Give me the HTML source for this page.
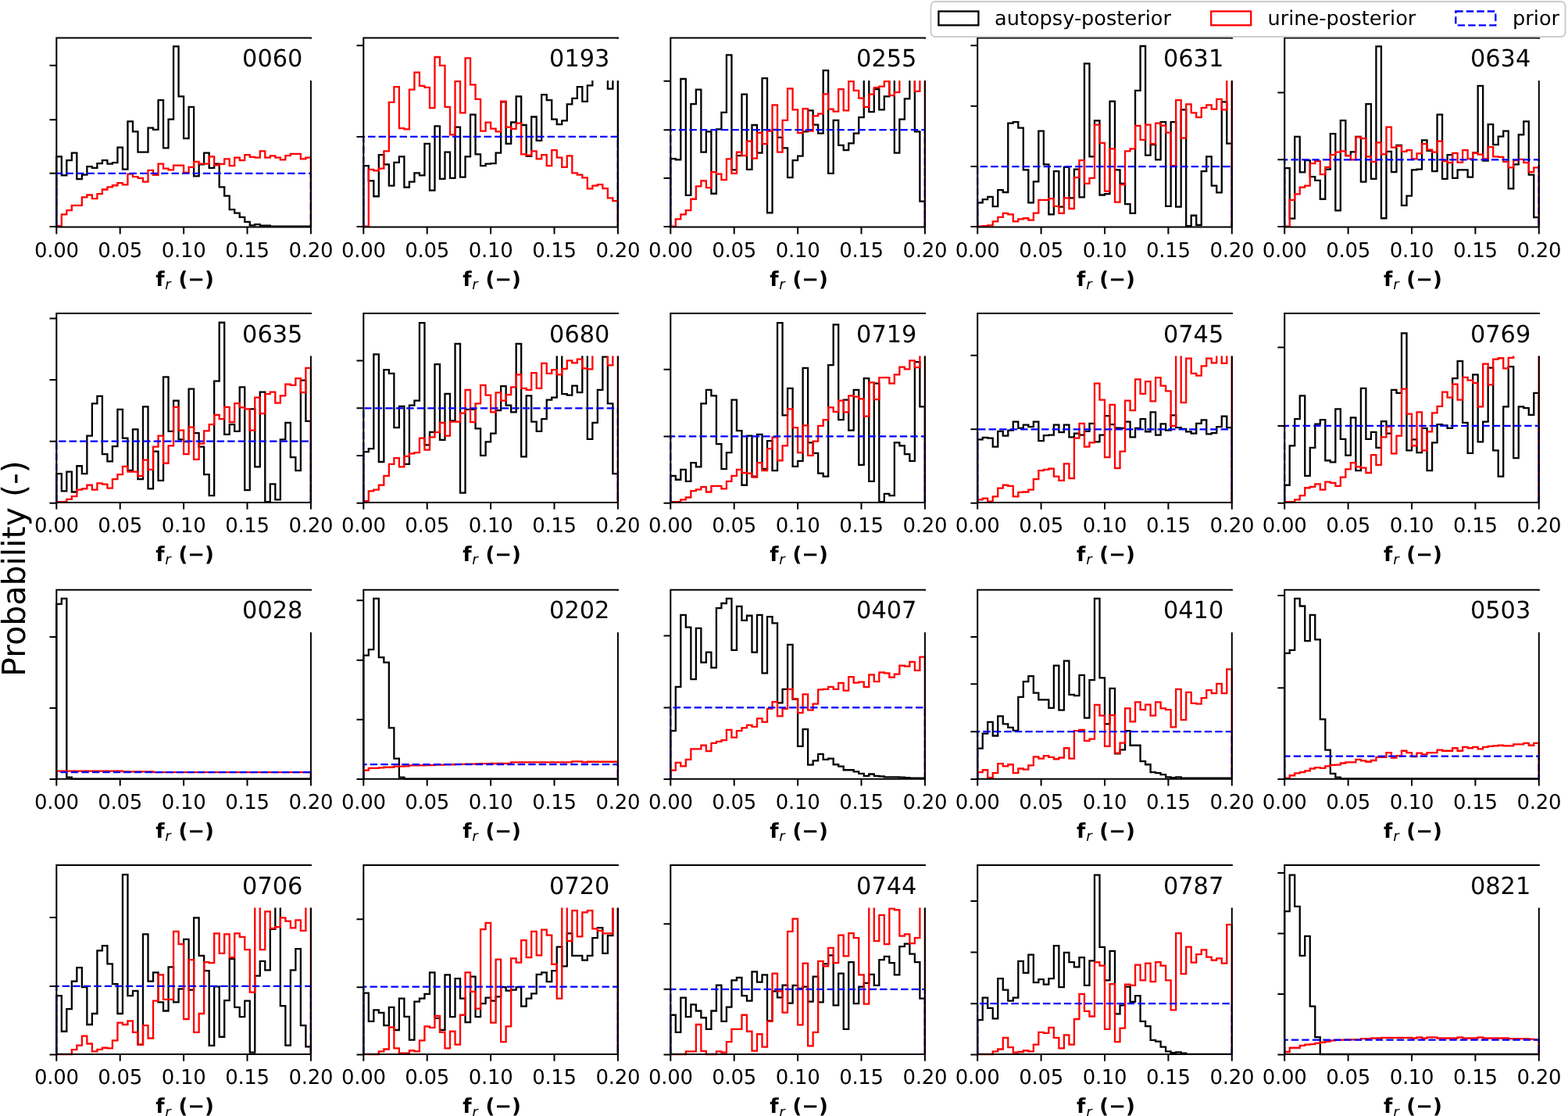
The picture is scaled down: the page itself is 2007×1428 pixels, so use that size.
<!DOCTYPE html>
<html><head><meta charset="utf-8"><title>Posterior histograms</title>
<style>
html,body{margin:0;padding:0;background:#fff;}
svg{display:block;}
text{font-family:"DejaVu Sans","Liberation Sans",sans-serif;fill:#000;text-rendering:geometricPrecision;}
.tl{font-size:26px;letter-spacing:-0.3px;text-anchor:middle;}
.tt{font-size:30.4px;text-anchor:end;}
.xl{font-size:26px;text-anchor:middle;}
.xl .sub{font-size:18.2px;}
.lg{font-size:25.6px;}
.yl{font-size:41px;text-anchor:middle;}
</style></head><body>
<svg width="2007" height="1428" viewBox="0 0 2007 1428">
<rect width="2007" height="1428" fill="#fff"/>
<path d="M72.3 290.6 L72.3 200.46 L78.81 200.46 L78.81 224.45 L85.32 224.45 L85.32 205.19 L91.84 205.19 L91.84 195.56 L98.35 195.56 L98.35 229.17 L104.86 229.17 L104.86 223.57 L111.37 223.57 L111.37 213.07 L117.88 213.07 L117.88 214.82 L124.4 214.82 L124.4 209.22 L130.91 209.22 L130.91 205.19 L137.42 205.19 L137.42 209.57 L143.93 209.57 L143.93 208.17 L150.44 208.17 L150.44 188.56 L156.96 188.56 L156.96 216.57 L163.47 216.57 L163.47 155.29 L169.98 155.29 L169.98 168.42 L176.49 168.42 L176.49 194.68 L183 194.68 L183 194.68 L189.52 194.68 L189.52 163.7 L196.03 163.7 L196.03 165.8 L202.54 165.8 L202.54 128.16 L209.05 128.16 L209.05 189.43 L215.56 189.43 L215.56 152.67 L222.08 152.67 L222.08 59.36 L228.59 59.36 L228.59 123.43 L235.1 123.43 L235.1 177.18 L241.61 177.18 L241.61 136.91 L248.12 136.91 L248.12 225.32 L254.64 225.32 L254.64 210.44 L261.15 210.44 L261.15 195.56 L267.66 195.56 L267.66 214.82 L274.17 214.82 L274.17 209.57 L280.68 209.57 L280.68 239.33 L287.2 239.33 L287.2 250.71 L293.71 250.71 L293.71 268.21 L300.22 268.21 L300.22 272.59 L306.73 272.59 L306.73 277.84 L313.24 277.84 L313.24 283.97 L319.76 283.97 L319.76 288.35 L326.27 288.35 L326.27 287.12 L332.78 287.12 L332.78 288.7 L339.29 288.7 L339.29 288.7 L345.8 288.7 L345.8 289.57 L352.32 289.57 L352.32 289.57 L358.83 289.57 L358.83 289.57 L365.34 289.57 L365.34 289.57 L371.85 289.57 L371.85 289.57 L378.36 289.57 L378.36 289.57 L384.88 289.57 L384.88 289.57 L391.39 289.57 L391.39 289.57 L397.9 289.57 L397.9 290.6" stroke="#000" stroke-width="2.3" fill="none"/>
<path d="M72.3 290.6 L72.3 289.22 L78.81 289.22 L78.81 274.34 L85.32 274.34 L85.32 269.09 L91.84 269.09 L91.84 262.96 L98.35 262.96 L98.35 262.96 L104.86 262.96 L104.86 252.46 L111.37 252.46 L111.37 249.48 L117.88 249.48 L117.88 254.21 L124.4 254.21 L124.4 248.08 L130.91 248.08 L130.91 242.48 L137.42 242.48 L137.42 239.33 L143.93 239.33 L143.93 237.23 L150.44 237.23 L150.44 234.08 L156.96 234.08 L156.96 236.35 L163.47 236.35 L163.47 222.7 L169.98 222.7 L169.98 226.2 L176.49 226.2 L176.49 227.95 L183 227.95 L183 232.68 L189.52 232.68 L189.52 217.97 L196.03 217.97 L196.03 223.92 L202.54 223.92 L202.54 209.57 L209.05 209.57 L209.05 215.69 L215.56 215.69 L215.56 217.44 L222.08 217.44 L222.08 211.67 L228.59 211.67 L228.59 211.67 L235.1 211.67 L235.1 220.95 L241.61 220.95 L241.61 213.94 L248.12 213.94 L248.12 206.94 L254.64 206.94 L254.64 209.57 L261.15 209.57 L261.15 209.57 L267.66 209.57 L267.66 200.46 L274.17 200.46 L274.17 211.32 L280.68 211.32 L280.68 209.92 L287.2 209.92 L287.2 203.44 L293.71 203.44 L293.71 212.19 L300.22 212.19 L300.22 201.69 L306.73 201.69 L306.73 205.19 L313.24 205.19 L313.24 198.19 L319.76 198.19 L319.76 200.81 L326.27 200.81 L326.27 201.69 L332.78 201.69 L332.78 193.46 L339.29 193.46 L339.29 201.69 L345.8 201.69 L345.8 199.41 L352.32 199.41 L352.32 201.69 L358.83 201.69 L358.83 204.31 L365.34 204.31 L365.34 199.06 L371.85 199.06 L371.85 196.96 L378.36 196.96 L378.36 196.96 L384.88 196.96 L384.88 203.44 L391.39 203.44 L391.39 201.69 L397.9 201.69 L397.9 290.6" stroke="#ff0000" stroke-width="2.3" fill="none"/>
<path d="M72.3 290.6V221.82H397.9V290.6" stroke="#0000ff" stroke-width="2.3" stroke-dasharray="9.4 4.1" fill="none"/>
<path d="M397.9 48.6V290.6" stroke="#000" stroke-width="2.0"/>
<rect x="294.3" y="49.6" width="106.6" height="53.5" fill="#fff"/>
<path d="M72.3 48.6V290.6 M72.3 48.6H397.9 M72.3 290.6H397.9" stroke="#000" stroke-width="2.0" stroke-linecap="square" fill="none"/>
<path d="M72.3 83.87H63.5M72.3 153.19H63.5M72.3 221.82H63.5M72.3 290.1H63.5M72.3 290.6V299.4M153.7 290.6V299.4M235.1 290.6V299.4M316.5 290.6V299.4M397.9 290.6V299.4" stroke="#000" stroke-width="2.0"/>
<text x="72.3" y="329" class="tl">0.00</text>
<text x="153.7" y="329" class="tl">0.05</text>
<text x="235.1" y="329" class="tl">0.10</text>
<text x="316.5" y="329" class="tl">0.15</text>
<text x="397.9" y="329" class="tl">0.20</text>
<text x="387.4" y="85.2" class="tt">0060</text>
<text x="235.1" y="365.9" class="xl"><tspan dx="1.5" font-weight="bold">f</tspan><tspan class="sub" dx="0.8" dy="4.2" font-style="italic" font-weight="normal">r</tspan><tspan dx="0.6" dy="-4.2" font-weight="bold"> (−)</tspan></text>
<path d="M465.3 290.6 L465.3 212.19 L471.81 212.19 L471.81 231.45 L478.32 231.45 L478.32 251.23 L484.84 251.23 L484.84 198.19 L491.35 198.19 L491.35 210.44 L497.86 210.44 L497.86 237.58 L504.37 237.58 L504.37 207.82 L510.88 207.82 L510.88 200.46 L517.4 200.46 L517.4 239.68 L523.91 239.68 L523.91 232.68 L530.42 232.68 L530.42 221.47 L536.93 221.47 L536.93 224.45 L543.44 224.45 L543.44 183.83 L549.96 183.83 L549.96 243.7 L556.47 243.7 L556.47 161.42 L562.98 161.42 L562.98 228.82 L569.49 228.82 L569.49 194.68 L576 194.68 L576 227.95 L582.52 227.95 L582.52 162.65 L589.03 162.65 L589.03 226.72 L595.54 226.72 L595.54 200.46 L602.05 200.46 L602.05 146.54 L608.56 146.54 L608.56 197.31 L615.08 197.31 L615.08 212.19 L621.59 212.19 L621.59 209.57 L628.1 209.57 L628.1 209.22 L634.61 209.22 L634.61 195.56 L641.12 195.56 L641.12 130.43 L647.64 130.43 L647.64 183.83 L654.15 183.83 L654.15 156.52 L660.66 156.52 L660.66 123.43 L667.17 123.43 L667.17 160.02 L673.68 160.02 L673.68 199.94 L680.2 199.94 L680.2 149.52 L686.71 149.52 L686.71 179.8 L693.22 179.8 L693.22 121.16 L699.73 121.16 L699.73 128.16 L706.24 128.16 L706.24 152.67 L712.76 152.67 L712.76 159.15 L719.27 159.15 L719.27 154.42 L725.78 154.42 L725.78 133.41 L732.29 133.41 L732.29 125.88 L738.8 125.88 L738.8 111.18 L745.32 111.18 L745.32 129.91 L751.83 129.91 L751.83 109.43 L758.34 109.43 L758.34 88.77 L764.85 88.77 L764.85 88.77 L771.36 88.77 L771.36 88.77 L777.88 88.77 L777.88 113.63 L784.39 113.63 L784.39 88.77 L790.9 88.77 L790.9 290.6" stroke="#000" stroke-width="2.3" fill="none"/>
<path d="M465.3 290.6 L465.3 289.57 L471.81 289.57 L471.81 216.92 L478.32 216.92 L478.32 218.32 L484.84 218.32 L484.84 215.69 L491.35 215.69 L491.35 193.46 L497.86 193.46 L497.86 130.78 L504.37 130.78 L504.37 111.18 L510.88 111.18 L510.88 164.05 L517.4 164.05 L517.4 165.45 L523.91 165.45 L523.91 114.68 L530.42 114.68 L530.42 92.62 L536.93 92.62 L536.93 109.78 L543.44 109.78 L543.44 111.88 L549.96 111.88 L549.96 138.14 L556.47 138.14 L556.47 73.01 L562.98 73.01 L562.98 83.87 L569.49 83.87 L569.49 136.91 L576 136.91 L576 172.45 L582.52 172.45 L582.52 104.17 L589.03 104.17 L589.03 144.44 L595.54 144.44 L595.54 74.41 L602.05 74.41 L602.05 108.38 L608.56 108.38 L608.56 126.93 L615.08 126.93 L615.08 167.55 L621.59 167.55 L621.59 156.69 L628.1 156.69 L628.1 164.57 L634.61 164.57 L634.61 168.42 L641.12 168.42 L641.12 129.56 L647.64 129.56 L647.64 162.65 L654.15 162.65 L654.15 164.92 L660.66 164.92 L660.66 157.57 L667.17 157.57 L667.17 197.31 L673.68 197.31 L673.68 198.71 L680.2 198.71 L680.2 193.46 L686.71 193.46 L686.71 203.44 L693.22 203.44 L693.22 198.19 L699.73 198.19 L699.73 212.19 L706.24 212.19 L706.24 192.06 L712.76 192.06 L712.76 201.69 L719.27 201.69 L719.27 213.94 L725.78 213.94 L725.78 199.41 L732.29 199.41 L732.29 221.47 L738.8 221.47 L738.8 223.57 L745.32 223.57 L745.32 227.42 L751.83 227.42 L751.83 241.43 L758.34 241.43 L758.34 237.58 L764.85 237.58 L764.85 236.18 L771.36 236.18 L771.36 241.08 L777.88 241.08 L777.88 253.33 L784.39 253.33 L784.39 257.18 L790.9 257.18 L790.9 290.6" stroke="#ff0000" stroke-width="2.3" fill="none"/>
<path d="M465.3 290.6V174.9H790.9V290.6" stroke="#0000ff" stroke-width="2.3" stroke-dasharray="9.4 4.1" fill="none"/>
<path d="M790.9 48.6V290.6" stroke="#000" stroke-width="2.0"/>
<rect x="687.3" y="49.6" width="106.6" height="53.5" fill="#fff"/>
<path d="M465.3 48.6V290.6 M465.3 48.6H790.9 M465.3 290.6H790.9" stroke="#000" stroke-width="2.0" stroke-linecap="square" fill="none"/>
<path d="M465.3 58.13H456.5M465.3 174.9H456.5M465.3 290.1H456.5M465.3 290.6V299.4M546.7 290.6V299.4M628.1 290.6V299.4M709.5 290.6V299.4M790.9 290.6V299.4" stroke="#000" stroke-width="2.0"/>
<text x="465.3" y="329" class="tl">0.00</text>
<text x="546.7" y="329" class="tl">0.05</text>
<text x="628.1" y="329" class="tl">0.10</text>
<text x="709.5" y="329" class="tl">0.15</text>
<text x="790.9" y="329" class="tl">0.20</text>
<text x="780.4" y="85.2" class="tt">0193</text>
<text x="628.1" y="365.9" class="xl"><tspan dx="1.5" font-weight="bold">f</tspan><tspan class="sub" dx="0.8" dy="4.2" font-style="italic" font-weight="normal">r</tspan><tspan dx="0.6" dy="-4.2" font-weight="bold"> (−)</tspan></text>
<path d="M858.3 290.6 L858.3 203.09 L864.81 203.09 L864.81 204.31 L871.32 204.31 L871.32 101.02 L877.84 101.02 L877.84 249.83 L884.35 249.83 L884.35 133.06 L890.86 133.06 L890.86 114.68 L897.37 114.68 L897.37 194.68 L903.88 194.68 L903.88 168.42 L910.4 168.42 L910.4 247.73 L916.91 247.73 L916.91 165.45 L923.42 165.45 L923.42 143.91 L929.93 143.91 L929.93 70.39 L936.44 70.39 L936.44 217.44 L942.96 217.44 L942.96 199.06 L949.47 199.06 L949.47 120.63 L955.98 120.63 L955.98 216.92 L962.49 216.92 L962.49 160.02 L969 160.02 L969 195.56 L975.52 195.56 L975.52 100.15 L982.03 100.15 L982.03 272.24 L988.54 272.24 L988.54 165.8 L995.05 165.8 L995.05 175.95 L1001.56 175.95 L1001.56 189.43 L1008.08 189.43 L1008.08 227.07 L1014.59 227.07 L1014.59 205.19 L1021.1 205.19 L1021.1 199.59 L1027.61 199.59 L1027.61 168.42 L1034.12 168.42 L1034.12 141.29 L1040.64 141.29 L1040.64 159.67 L1047.15 159.67 L1047.15 170.7 L1053.66 170.7 L1053.66 90.17 L1060.17 90.17 L1060.17 221.82 L1066.68 221.82 L1066.68 153.89 L1073.2 153.89 L1073.2 185.93 L1079.71 185.93 L1079.71 192.06 L1086.22 192.06 L1086.22 183.31 L1092.73 183.31 L1092.73 170.7 L1099.24 170.7 L1099.24 150.04 L1105.76 150.04 L1105.76 88.77 L1112.27 88.77 L1112.27 143.04 L1118.78 143.04 L1118.78 114.15 L1125.29 114.15 L1125.29 140.41 L1131.8 140.41 L1131.8 123.43 L1138.32 123.43 L1138.32 88.77 L1144.83 88.77 L1144.83 195.56 L1151.34 195.56 L1151.34 152.67 L1157.85 152.67 L1157.85 126.41 L1164.36 126.41 L1164.36 88.77 L1170.88 88.77 L1170.88 168.42 L1177.39 168.42 L1177.39 257.71 L1183.9 257.71 L1183.9 290.6" stroke="#000" stroke-width="2.3" fill="none"/>
<path d="M858.3 290.6 L858.3 289.57 L864.81 289.57 L864.81 280.47 L871.32 280.47 L871.32 274.34 L877.84 274.34 L877.84 269.09 L884.35 269.09 L884.35 254.73 L890.86 254.73 L890.86 238.45 L897.37 238.45 L897.37 231.45 L903.88 231.45 L903.88 240.2 L910.4 240.2 L910.4 220.07 L916.91 220.07 L916.91 222.7 L923.42 222.7 L923.42 230.05 L929.93 230.05 L929.93 203.44 L936.44 203.44 L936.44 221.82 L942.96 221.82 L942.96 194.68 L949.47 194.68 L949.47 199.06 L955.98 199.06 L955.98 180.68 L962.49 180.68 L962.49 202.56 L969 202.56 L969 169.82 L975.52 169.82 L975.52 184.18 L982.03 184.18 L982.03 167.55 L988.54 167.55 L988.54 134.29 L995.05 134.29 L995.05 194.68 L1001.56 194.68 L1001.56 153.89 L1008.08 153.89 L1008.08 113.28 L1014.59 113.28 L1014.59 140.41 L1021.1 140.41 L1021.1 170.18 L1027.61 170.18 L1027.61 139.19 L1034.12 139.19 L1034.12 167.55 L1040.64 167.55 L1040.64 148.29 L1047.15 148.29 L1047.15 145.67 L1053.66 145.67 L1053.66 120.28 L1060.17 120.28 L1060.17 139.54 L1066.68 139.54 L1066.68 142.69 L1073.2 142.69 L1073.2 114.15 L1079.71 114.15 L1079.71 141.29 L1086.22 141.29 L1086.22 104.17 L1092.73 104.17 L1092.73 115.9 L1099.24 115.9 L1099.24 125.53 L1105.76 125.53 L1105.76 136.91 L1112.27 136.91 L1112.27 120.63 L1118.78 120.63 L1118.78 112.05 L1125.29 112.05 L1125.29 110.65 L1131.8 110.65 L1131.8 104.17 L1138.32 104.17 L1138.32 122.03 L1144.83 122.03 L1144.83 118.18 L1151.34 118.18 L1151.34 88.77 L1157.85 88.77 L1157.85 88.77 L1164.36 88.77 L1164.36 88.77 L1170.88 88.77 L1170.88 116.78 L1177.39 116.78 L1177.39 88.77 L1183.9 88.77 L1183.9 290.6" stroke="#ff0000" stroke-width="2.3" fill="none"/>
<path d="M858.3 290.6V166.15H1183.9V290.6" stroke="#0000ff" stroke-width="2.3" stroke-dasharray="9.4 4.1" fill="none"/>
<path d="M1183.9 48.6V290.6" stroke="#000" stroke-width="2.0"/>
<rect x="1080.3" y="49.6" width="106.6" height="53.5" fill="#fff"/>
<path d="M858.3 48.6V290.6 M858.3 48.6H1183.9 M858.3 290.6H1183.9" stroke="#000" stroke-width="2.0" stroke-linecap="square" fill="none"/>
<path d="M858.3 103.65H849.5M858.3 166.15H849.5M858.3 227.95H849.5M858.3 290.1H849.5M858.3 290.6V299.4M939.7 290.6V299.4M1021.1 290.6V299.4M1102.5 290.6V299.4M1183.9 290.6V299.4" stroke="#000" stroke-width="2.0"/>
<text x="858.3" y="329" class="tl">0.00</text>
<text x="939.7" y="329" class="tl">0.05</text>
<text x="1021.1" y="329" class="tl">0.10</text>
<text x="1102.5" y="329" class="tl">0.15</text>
<text x="1183.9" y="329" class="tl">0.20</text>
<text x="1173.4" y="85.2" class="tt">0255</text>
<text x="1021.1" y="365.9" class="xl"><tspan dx="1.5" font-weight="bold">f</tspan><tspan class="sub" dx="0.8" dy="4.2" font-style="italic" font-weight="normal">r</tspan><tspan dx="0.6" dy="-4.2" font-weight="bold"> (−)</tspan></text>
<path d="M1251.2 290.6 L1251.2 259.46 L1257.71 259.46 L1257.71 255.08 L1264.22 255.08 L1264.22 251.93 L1270.74 251.93 L1270.74 264.19 L1277.25 264.19 L1277.25 243.18 L1283.76 243.18 L1283.76 245.98 L1290.27 245.98 L1290.27 157.57 L1296.78 157.57 L1296.78 156.17 L1303.3 156.17 L1303.3 163.7 L1309.81 163.7 L1309.81 217.44 L1316.32 217.44 L1316.32 259.46 L1322.83 259.46 L1322.83 232.32 L1329.34 232.32 L1329.34 167.55 L1335.86 167.55 L1335.86 210.44 L1342.37 210.44 L1342.37 274.34 L1348.88 274.34 L1348.88 219.19 L1355.39 219.19 L1355.39 264.71 L1361.9 264.71 L1361.9 213.94 L1368.42 213.94 L1368.42 253.33 L1374.93 253.33 L1374.93 216.57 L1381.44 216.57 L1381.44 252.46 L1387.95 252.46 L1387.95 81.41 L1394.46 81.41 L1394.46 200.46 L1400.98 200.46 L1400.98 154.42 L1407.49 154.42 L1407.49 249.48 L1414 249.48 L1414 248.08 L1420.51 248.08 L1420.51 129.56 L1427.02 129.56 L1427.02 217.44 L1433.54 217.44 L1433.54 234.95 L1440.05 234.95 L1440.05 261.21 L1446.56 261.21 L1446.56 272.94 L1453.07 272.94 L1453.07 115.9 L1459.58 115.9 L1459.58 59.01 L1466.1 59.01 L1466.1 198.71 L1472.61 198.71 L1472.61 185.06 L1479.12 185.06 L1479.12 204.31 L1485.63 204.31 L1485.63 156.17 L1492.14 156.17 L1492.14 263.84 L1498.66 263.84 L1498.66 156.17 L1505.17 156.17 L1505.17 264.71 L1511.68 264.71 L1511.68 140.41 L1518.19 140.41 L1518.19 289.22 L1524.7 289.22 L1524.7 275.74 L1531.22 275.74 L1531.22 288 L1537.73 288 L1537.73 219.19 L1544.24 219.19 L1544.24 200.46 L1550.75 200.46 L1550.75 237.58 L1557.26 237.58 L1557.26 246.33 L1563.78 246.33 L1563.78 130.43 L1570.29 130.43 L1570.29 183.66 L1576.8 183.66 L1576.8 290.6" stroke="#000" stroke-width="2.3" fill="none"/>
<path d="M1251.2 290.6 L1251.2 289.57 L1257.71 289.57 L1257.71 289.22 L1264.22 289.22 L1264.22 288.35 L1270.74 288.35 L1270.74 283.45 L1277.25 283.45 L1277.25 277.84 L1283.76 277.84 L1283.76 272.94 L1290.27 272.94 L1290.27 274.34 L1296.78 274.34 L1296.78 283.45 L1303.3 283.45 L1303.3 280.47 L1309.81 280.47 L1309.81 279.24 L1316.32 279.24 L1316.32 281.69 L1322.83 281.69 L1322.83 272.59 L1329.34 272.59 L1329.34 255.96 L1335.86 255.96 L1335.86 255.96 L1342.37 255.96 L1342.37 254.21 L1348.88 254.21 L1348.88 263.84 L1355.39 263.84 L1355.39 272.94 L1361.9 272.94 L1361.9 253.33 L1368.42 253.33 L1368.42 266.99 L1374.93 266.99 L1374.93 227.07 L1381.44 227.07 L1381.44 205.19 L1387.95 205.19 L1387.95 234.95 L1394.46 234.95 L1394.46 227.95 L1400.98 227.95 L1400.98 159.67 L1407.49 159.67 L1407.49 182.96 L1414 182.96 L1414 244.58 L1420.51 244.58 L1420.51 190.31 L1427.02 190.31 L1427.02 258.59 L1433.54 258.59 L1433.54 236.18 L1440.05 236.18 L1440.05 193.46 L1446.56 193.46 L1446.56 190.31 L1453.07 190.31 L1453.07 160.9 L1459.58 160.9 L1459.58 178.93 L1466.1 178.93 L1466.1 159.67 L1472.61 159.67 L1472.61 184.18 L1479.12 184.18 L1479.12 157.57 L1485.63 157.57 L1485.63 160.55 L1492.14 160.55 L1492.14 169.65 L1498.66 169.65 L1498.66 212.19 L1505.17 212.19 L1505.17 128.16 L1511.68 128.16 L1511.68 176.65 L1518.19 176.65 L1518.19 133.41 L1524.7 133.41 L1524.7 144.44 L1531.22 144.44 L1531.22 150.04 L1537.73 150.04 L1537.73 137.79 L1544.24 137.79 L1544.24 134.29 L1550.75 134.29 L1550.75 139.54 L1557.26 139.54 L1557.26 126.93 L1563.78 126.93 L1563.78 140.41 L1570.29 140.41 L1570.29 88.77 L1576.8 88.77 L1576.8 290.6" stroke="#ff0000" stroke-width="2.3" fill="none"/>
<path d="M1251.2 290.6V213.07H1576.8V290.6" stroke="#0000ff" stroke-width="2.3" stroke-dasharray="9.4 4.1" fill="none"/>
<path d="M1576.8 48.6V290.6" stroke="#000" stroke-width="2.0"/>
<rect x="1473.2" y="49.6" width="106.6" height="53.5" fill="#fff"/>
<path d="M1251.2 48.6V290.6 M1251.2 48.6H1576.8 M1251.2 290.6H1576.8" stroke="#000" stroke-width="2.0" stroke-linecap="square" fill="none"/>
<path d="M1251.2 58.13H1242.4M1251.2 135.69H1242.4M1251.2 213.07H1242.4M1251.2 290.1H1242.4M1251.2 290.6V299.4M1332.6 290.6V299.4M1414 290.6V299.4M1495.4 290.6V299.4M1576.8 290.6V299.4" stroke="#000" stroke-width="2.0"/>
<text x="1251.2" y="329" class="tl">0.00</text>
<text x="1332.6" y="329" class="tl">0.05</text>
<text x="1414" y="329" class="tl">0.10</text>
<text x="1495.4" y="329" class="tl">0.15</text>
<text x="1576.8" y="329" class="tl">0.20</text>
<text x="1566.3" y="85.2" class="tt">0631</text>
<text x="1414" y="365.9" class="xl"><tspan dx="1.5" font-weight="bold">f</tspan><tspan class="sub" dx="0.8" dy="4.2" font-style="italic" font-weight="normal">r</tspan><tspan dx="0.6" dy="-4.2" font-weight="bold"> (−)</tspan></text>
<path d="M1644.2 290.6 L1644.2 215.17 L1650.71 215.17 L1650.71 279.59 L1657.22 279.59 L1657.22 174.9 L1663.74 174.9 L1663.74 220.42 L1670.25 220.42 L1670.25 205.19 L1676.76 205.19 L1676.76 226.2 L1683.27 226.2 L1683.27 230.92 L1689.78 230.92 L1689.78 254.73 L1696.3 254.73 L1696.3 216.57 L1702.81 216.57 L1702.81 171.05 L1709.32 171.05 L1709.32 269.44 L1715.83 269.44 L1715.83 154.07 L1722.34 154.07 L1722.34 199.06 L1728.86 199.06 L1728.86 194.33 L1735.37 194.33 L1735.37 174.9 L1741.88 174.9 L1741.88 232.68 L1748.39 232.68 L1748.39 133.06 L1754.9 133.06 L1754.9 228.82 L1761.42 228.82 L1761.42 59.36 L1767.93 59.36 L1767.93 279.24 L1774.44 279.24 L1774.44 193.81 L1780.95 193.81 L1780.95 220.07 L1787.46 220.07 L1787.46 185.93 L1793.98 185.93 L1793.98 262.96 L1800.49 262.96 L1800.49 250.71 L1807 250.71 L1807 217.44 L1813.51 217.44 L1813.51 216.57 L1820.02 216.57 L1820.02 179.45 L1826.54 179.45 L1826.54 192.93 L1833.05 192.93 L1833.05 219.19 L1839.56 219.19 L1839.56 146.54 L1846.07 146.54 L1846.07 228.82 L1852.58 228.82 L1852.58 198.19 L1859.1 198.19 L1859.1 227.95 L1865.61 227.95 L1865.61 217.44 L1872.12 217.44 L1872.12 217.44 L1878.63 217.44 L1878.63 226.72 L1885.14 226.72 L1885.14 195.56 L1891.66 195.56 L1891.66 109.78 L1898.17 109.78 L1898.17 205.71 L1904.68 205.71 L1904.68 159.15 L1911.19 159.15 L1911.19 185.06 L1917.7 185.06 L1917.7 174.55 L1924.22 174.55 L1924.22 167.55 L1930.73 167.55 L1930.73 241.43 L1937.24 241.43 L1937.24 210.44 L1943.75 210.44 L1943.75 172.45 L1950.26 172.45 L1950.26 155.29 L1956.78 155.29 L1956.78 223.57 L1963.29 223.57 L1963.29 278.19 L1969.8 278.19 L1969.8 290.6" stroke="#000" stroke-width="2.3" fill="none"/>
<path d="M1644.2 290.6 L1644.2 289.57 L1650.71 289.57 L1650.71 255.96 L1657.22 255.96 L1657.22 248.43 L1663.74 248.43 L1663.74 239.68 L1670.25 239.68 L1670.25 237.58 L1676.76 237.58 L1676.76 209.22 L1683.27 209.22 L1683.27 206.06 L1689.78 206.06 L1689.78 223.22 L1696.3 223.22 L1696.3 213.94 L1702.81 213.94 L1702.81 198.19 L1709.32 198.19 L1709.32 194.68 L1715.83 194.68 L1715.83 193.46 L1722.34 193.46 L1722.34 199.06 L1728.86 199.06 L1728.86 204.31 L1735.37 204.31 L1735.37 175.43 L1741.88 175.43 L1741.88 177.18 L1748.39 177.18 L1748.39 200.46 L1754.9 200.46 L1754.9 206.94 L1761.42 206.94 L1761.42 182.43 L1767.93 182.43 L1767.93 197.31 L1774.44 197.31 L1774.44 162.65 L1780.95 162.65 L1780.95 188.56 L1787.46 188.56 L1787.46 186.81 L1793.98 186.81 L1793.98 193.81 L1800.49 193.81 L1800.49 192.06 L1807 192.06 L1807 203.44 L1813.51 203.44 L1813.51 196.44 L1820.02 196.44 L1820.02 184.18 L1826.54 184.18 L1826.54 191.71 L1833.05 191.71 L1833.05 194.68 L1839.56 194.68 L1839.56 180.68 L1846.07 180.68 L1846.07 206.06 L1852.58 206.06 L1852.58 208.17 L1859.1 208.17 L1859.1 195.91 L1865.61 195.91 L1865.61 207.82 L1872.12 207.82 L1872.12 192.06 L1878.63 192.06 L1878.63 203.44 L1885.14 203.44 L1885.14 195.56 L1891.66 195.56 L1891.66 197.66 L1898.17 197.66 L1898.17 203.44 L1904.68 203.44 L1904.68 188.21 L1911.19 188.21 L1911.19 200.46 L1917.7 200.46 L1917.7 200.81 L1924.22 200.81 L1924.22 206.94 L1930.73 206.94 L1930.73 214.47 L1937.24 214.47 L1937.24 205.19 L1943.75 205.19 L1943.75 203.96 L1950.26 203.96 L1950.26 208.17 L1956.78 208.17 L1956.78 220.07 L1963.29 220.07 L1963.29 214.47 L1969.8 214.47 L1969.8 290.6" stroke="#ff0000" stroke-width="2.3" fill="none"/>
<path d="M1644.2 290.6V204.31H1969.8V290.6" stroke="#0000ff" stroke-width="2.3" stroke-dasharray="9.4 4.1" fill="none"/>
<path d="M1969.8 48.6V290.6" stroke="#000" stroke-width="2.0"/>
<rect x="1866.2" y="49.6" width="106.6" height="53.5" fill="#fff"/>
<path d="M1644.2 48.6V290.6 M1644.2 48.6H1969.8 M1644.2 290.6H1969.8" stroke="#000" stroke-width="2.0" stroke-linecap="square" fill="none"/>
<path d="M1644.2 118.53H1635.4M1644.2 204.31H1635.4M1644.2 290.1H1635.4M1644.2 290.6V299.4M1725.6 290.6V299.4M1807 290.6V299.4M1888.4 290.6V299.4M1969.8 290.6V299.4" stroke="#000" stroke-width="2.0"/>
<text x="1644.2" y="329" class="tl">0.00</text>
<text x="1725.6" y="329" class="tl">0.05</text>
<text x="1807" y="329" class="tl">0.10</text>
<text x="1888.4" y="329" class="tl">0.15</text>
<text x="1969.8" y="329" class="tl">0.20</text>
<text x="1959.3" y="85.2" class="tt">0634</text>
<text x="1807" y="365.9" class="xl"><tspan dx="1.5" font-weight="bold">f</tspan><tspan class="sub" dx="0.8" dy="4.2" font-style="italic" font-weight="normal">r</tspan><tspan dx="0.6" dy="-4.2" font-weight="bold"> (−)</tspan></text>
<path d="M72.3 642.9 L72.3 606.21 L78.81 606.21 L78.81 628.44 L85.32 628.44 L85.32 603.58 L91.84 603.58 L91.84 629.49 L98.35 629.49 L98.35 596.23 L104.86 596.23 L104.86 606.21 L111.37 606.21 L111.37 557.71 L117.88 557.71 L117.88 516.4 L124.4 516.4 L124.4 506.94 L130.91 506.94 L130.91 581.17 L137.42 581.17 L137.42 590.45 L143.93 590.45 L143.93 571.19 L150.44 571.19 L150.44 523.93 L156.96 523.93 L156.96 560.69 L163.47 560.69 L163.47 601.83 L169.98 601.83 L169.98 549.31 L176.49 549.31 L176.49 613.21 L183 613.21 L183 520.42 L189.52 520.42 L189.52 625.47 L196.03 625.47 L196.03 577.67 L202.54 577.67 L202.54 614.96 L209.05 614.96 L209.05 482.43 L215.56 482.43 L215.56 551.94 L222.08 551.94 L222.08 512.55 L228.59 512.55 L228.59 562.44 L235.1 562.44 L235.1 565.07 L241.61 565.07 L241.61 497.67 L248.12 497.67 L248.12 554.21 L254.64 554.21 L254.64 571.72 L261.15 571.72 L261.15 607.08 L267.66 607.08 L267.66 634.22 L274.17 634.22 L274.17 487.69 L280.68 487.69 L280.68 412.76 L287.2 412.76 L287.2 555.96 L293.71 555.96 L293.71 543.18 L300.22 543.18 L300.22 551.94 L306.73 551.94 L306.73 495.39 L313.24 495.39 L313.24 627.22 L319.76 627.22 L319.76 523.4 L326.27 523.4 L326.27 597.46 L332.78 597.46 L332.78 501.69 L339.29 501.69 L339.29 642.1 L345.8 642.1 L345.8 619.34 L352.32 619.34 L352.32 639.47 L358.83 639.47 L358.83 562.44 L365.34 562.44 L365.34 540.91 L371.85 540.91 L371.85 585.2 L378.36 585.2 L378.36 602.18 L384.88 602.18 L384.88 486.64 L391.39 486.64 L391.39 538.81 L397.9 538.81 L397.9 642.9" stroke="#000" stroke-width="2.3" fill="none"/>
<path d="M72.3 642.9 L72.3 642.1 L78.81 642.1 L78.81 642.1 L85.32 642.1 L85.32 638.95 L91.84 638.95 L91.84 635.1 L98.35 635.1 L98.35 626.69 L104.86 626.69 L104.86 625.47 L111.37 625.47 L111.37 620.74 L117.88 620.74 L117.88 626.69 L124.4 626.69 L124.4 618.46 L130.91 618.46 L130.91 619.69 L137.42 619.69 L137.42 624.59 L143.93 624.59 L143.93 613.21 L150.44 613.21 L150.44 607.08 L156.96 607.08 L156.96 596.93 L163.47 596.93 L163.47 603.58 L169.98 603.58 L169.98 603.58 L176.49 603.58 L176.49 609.18 L183 609.18 L183 588.7 L189.52 588.7 L189.52 600.96 L196.03 600.96 L196.03 571.72 L202.54 571.72 L202.54 557.71 L209.05 557.71 L209.05 592.73 L215.56 592.73 L215.56 570.32 L222.08 570.32 L222.08 520.95 L228.59 520.95 L228.59 550.71 L235.1 550.71 L235.1 581.17 L241.61 581.17 L241.61 546.68 L248.12 546.68 L248.12 587.83 L254.64 587.83 L254.64 567.69 L261.15 567.69 L261.15 551.41 L267.66 551.41 L267.66 543.18 L274.17 543.18 L274.17 530.93 L280.68 530.93 L280.68 536.18 L287.2 536.18 L287.2 520.95 L293.71 520.95 L293.71 540.21 L300.22 540.21 L300.22 516.05 L306.73 516.05 L306.73 521.3 L313.24 521.3 L313.24 523.4 L319.76 523.4 L319.76 550.71 L326.27 550.71 L326.27 508.69 L332.78 508.69 L332.78 529.18 L339.29 529.18 L339.29 504.14 L345.8 504.14 L345.8 501.69 L352.32 501.69 L352.32 515.7 L358.83 515.7 L358.83 506.42 L365.34 506.42 L365.34 491.54 L371.85 491.54 L371.85 492.94 L378.36 492.94 L378.36 484.18 L384.88 484.18 L384.88 502.04 L391.39 502.04 L391.39 470.88 L397.9 470.88 L397.9 642.9" stroke="#ff0000" stroke-width="2.3" fill="none"/>
<path d="M72.3 642.9V564.72H397.9V642.9" stroke="#0000ff" stroke-width="2.3" stroke-dasharray="9.4 4.1" fill="none"/>
<path d="M397.9 400.9V642.9" stroke="#000" stroke-width="2.0"/>
<rect x="294.3" y="401.9" width="106.6" height="53.5" fill="#fff"/>
<path d="M72.3 400.9V642.9 M72.3 400.9H397.9 M72.3 642.9H397.9" stroke="#000" stroke-width="2.0" stroke-linecap="square" fill="none"/>
<path d="M72.3 407.5H63.5M72.3 485.94H63.5M72.3 564.72H63.5M72.3 643.85H63.5M72.3 642.9V651.7M153.7 642.9V651.7M235.1 642.9V651.7M316.5 642.9V651.7M397.9 642.9V651.7" stroke="#000" stroke-width="2.0"/>
<text x="72.3" y="681.3" class="tl">0.00</text>
<text x="153.7" y="681.3" class="tl">0.05</text>
<text x="235.1" y="681.3" class="tl">0.10</text>
<text x="316.5" y="681.3" class="tl">0.15</text>
<text x="397.9" y="681.3" class="tl">0.20</text>
<text x="387.4" y="437.5" class="tt">0635</text>
<text x="235.1" y="718.2" class="xl"><tspan dx="1.5" font-weight="bold">f</tspan><tspan class="sub" dx="0.8" dy="4.2" font-style="italic" font-weight="normal">r</tspan><tspan dx="0.6" dy="-4.2" font-weight="bold"> (−)</tspan></text>
<path d="M465.3 642.9 L465.3 578.2 L471.81 578.2 L471.81 574.17 L478.32 574.17 L478.32 453.37 L484.84 453.37 L484.84 590.98 L491.35 590.98 L491.35 473.16 L497.86 473.16 L497.86 477.88 L504.37 477.88 L504.37 547.21 L510.88 547.21 L510.88 519.9 L517.4 519.9 L517.4 593.95 L523.91 593.95 L523.91 518.67 L530.42 518.67 L530.42 512.55 L536.93 512.55 L536.93 413.11 L543.44 413.11 L543.44 569.44 L549.96 569.44 L549.96 552.81 L556.47 552.81 L556.47 466.15 L562.98 466.15 L562.98 562.97 L569.49 562.97 L569.49 503.79 L576 503.79 L576 538.46 L582.52 538.46 L582.52 439.89 L589.03 439.89 L589.03 630.72 L595.54 630.72 L595.54 523.93 L602.05 523.93 L602.05 523.93 L608.56 523.93 L608.56 548.44 L615.08 548.44 L615.08 582.92 L621.59 582.92 L621.59 565.42 L628.1 565.42 L628.1 554.56 L634.61 554.56 L634.61 525.15 L641.12 525.15 L641.12 494.16 L647.64 494.16 L647.64 518.67 L654.15 518.67 L654.15 527.43 L660.66 527.43 L660.66 439.89 L667.17 439.89 L667.17 584.32 L673.68 584.32 L673.68 506.42 L680.2 506.42 L680.2 539.68 L686.71 539.68 L686.71 551.94 L693.22 551.94 L693.22 536.18 L699.73 536.18 L699.73 511.67 L706.24 511.67 L706.24 508.69 L712.76 508.69 L712.76 440.77 L719.27 440.77 L719.27 504.14 L725.78 504.14 L725.78 505.54 L732.29 505.54 L732.29 493.64 L738.8 493.64 L738.8 502.04 L745.32 502.04 L745.32 440.77 L751.83 440.77 L751.83 561.92 L758.34 561.92 L758.34 540.91 L764.85 540.91 L764.85 498.89 L771.36 498.89 L771.36 456.52 L777.88 456.52 L777.88 516.4 L784.39 516.4 L784.39 606.21 L790.9 606.21 L790.9 642.9" stroke="#000" stroke-width="2.3" fill="none"/>
<path d="M465.3 642.9 L465.3 641.22 L471.81 641.22 L471.81 628.44 L478.32 628.44 L478.32 626.69 L484.84 626.69 L484.84 620.74 L491.35 620.74 L491.35 608.83 L497.86 608.83 L497.86 593.95 L504.37 593.95 L504.37 586.08 L510.88 586.08 L510.88 597.46 L517.4 597.46 L517.4 583.97 L523.91 583.97 L523.91 580.47 L530.42 580.47 L530.42 579.07 L536.93 579.07 L536.93 560.69 L543.44 560.69 L543.44 575.57 L549.96 575.57 L549.96 559.46 L556.47 559.46 L556.47 553.16 L562.98 553.16 L562.98 540.91 L569.49 540.91 L569.49 557.71 L576 557.71 L576 539.68 L582.52 539.68 L582.52 539.68 L589.03 539.68 L589.03 528.65 L595.54 528.65 L595.54 498.89 L602.05 498.89 L602.05 540.21 L608.56 540.21 L608.56 516.4 L615.08 516.4 L615.08 492.94 L621.59 492.94 L621.59 505.54 L628.1 505.54 L628.1 527.43 L634.61 527.43 L634.61 502.39 L641.12 502.39 L641.12 512.55 L647.64 512.55 L647.64 505.19 L654.15 505.19 L654.15 495.39 L660.66 495.39 L660.66 479.28 L667.17 479.28 L667.17 496.79 L673.68 496.79 L673.68 498.89 L680.2 498.89 L680.2 477.18 L686.71 477.18 L686.71 496.79 L693.22 496.79 L693.22 464.93 L699.73 464.93 L699.73 477.88 L706.24 477.88 L706.24 473.16 L712.76 473.16 L712.76 479.28 L719.27 479.28 L719.27 471.93 L725.78 471.93 L725.78 461.43 L732.29 461.43 L732.29 464.4 L738.8 464.4 L738.8 459.68 L745.32 459.68 L745.32 471.4 L751.83 471.4 L751.83 472.28 L758.34 472.28 L758.34 440.77 L764.85 440.77 L764.85 440.77 L771.36 440.77 L771.36 440.77 L777.88 440.77 L777.88 467.38 L784.39 467.38 L784.39 440.77 L790.9 440.77 L790.9 642.9" stroke="#ff0000" stroke-width="2.3" fill="none"/>
<path d="M465.3 642.9V522.35H790.9V642.9" stroke="#0000ff" stroke-width="2.3" stroke-dasharray="9.4 4.1" fill="none"/>
<path d="M790.9 400.9V642.9" stroke="#000" stroke-width="2.0"/>
<rect x="687.3" y="401.9" width="106.6" height="53.5" fill="#fff"/>
<path d="M465.3 400.9V642.9 M465.3 400.9H790.9 M465.3 642.9H790.9" stroke="#000" stroke-width="2.0" stroke-linecap="square" fill="none"/>
<path d="M465.3 461.43H456.5M465.3 522.18H456.5M465.3 582.92H456.5M465.3 643.85H456.5M465.3 642.9V651.7M546.7 642.9V651.7M628.1 642.9V651.7M709.5 642.9V651.7M790.9 642.9V651.7" stroke="#000" stroke-width="2.0"/>
<text x="465.3" y="681.3" class="tl">0.00</text>
<text x="546.7" y="681.3" class="tl">0.05</text>
<text x="628.1" y="681.3" class="tl">0.10</text>
<text x="709.5" y="681.3" class="tl">0.15</text>
<text x="790.9" y="681.3" class="tl">0.20</text>
<text x="780.4" y="437.5" class="tt">0680</text>
<text x="628.1" y="718.2" class="xl"><tspan dx="1.5" font-weight="bold">f</tspan><tspan class="sub" dx="0.8" dy="4.2" font-style="italic" font-weight="normal">r</tspan><tspan dx="0.6" dy="-4.2" font-weight="bold"> (−)</tspan></text>
<path d="M858.3 642.9 L858.3 608.83 L864.81 608.83 L864.81 613.74 L871.32 613.74 L871.32 600.96 L877.84 600.96 L877.84 615.84 L884.35 615.84 L884.35 592.2 L890.86 592.2 L890.86 597.46 L897.37 597.46 L897.37 516.4 L903.88 516.4 L903.88 498.89 L910.4 498.89 L910.4 506.42 L916.91 506.42 L916.91 568.22 L923.42 568.22 L923.42 600.08 L929.93 600.08 L929.93 579.07 L936.44 579.07 L936.44 511.67 L942.96 511.67 L942.96 551.06 L949.47 551.06 L949.47 620.74 L955.98 620.74 L955.98 557.71 L962.49 557.71 L962.49 609.71 L969 609.71 L969 555.96 L975.52 555.96 L975.52 600.08 L982.03 600.08 L982.03 564.19 L988.54 564.19 L988.54 602.18 L995.05 602.18 L995.05 413.11 L1001.56 413.11 L1001.56 531.45 L1008.08 531.45 L1008.08 496.79 L1014.59 496.79 L1014.59 596.93 L1021.1 596.93 L1021.1 589.93 L1027.61 589.93 L1027.61 470.88 L1034.12 470.88 L1034.12 566.47 L1040.64 566.47 L1040.64 579.95 L1047.15 579.95 L1047.15 605.68 L1053.66 605.68 L1053.66 609.71 L1060.17 609.71 L1060.17 467.03 L1066.68 467.03 L1066.68 415.38 L1073.2 415.38 L1073.2 537.06 L1079.71 537.06 L1079.71 511.67 L1086.22 511.67 L1086.22 550.71 L1092.73 550.71 L1092.73 498.89 L1099.24 498.89 L1099.24 594.83 L1105.76 594.83 L1105.76 484.18 L1112.27 484.18 L1112.27 615.84 L1118.78 615.84 L1118.78 490.66 L1125.29 490.66 L1125.29 642.1 L1131.8 642.1 L1131.8 631.94 L1138.32 631.94 L1138.32 634.22 L1144.83 634.22 L1144.83 566.47 L1151.34 566.47 L1151.34 570.32 L1157.85 570.32 L1157.85 581.17 L1164.36 581.17 L1164.36 589.93 L1170.88 589.93 L1170.88 463.18 L1177.39 463.18 L1177.39 520.42 L1183.9 520.42 L1183.9 642.9" stroke="#000" stroke-width="2.3" fill="none"/>
<path d="M858.3 642.9 L858.3 642.1 L864.81 642.1 L864.81 642.1 L871.32 642.1 L871.32 639.47 L877.84 639.47 L877.84 636.5 L884.35 636.5 L884.35 628.09 L890.86 628.09 L890.86 626.34 L897.37 626.34 L897.37 623.19 L903.88 623.19 L903.88 629.49 L910.4 629.49 L910.4 621.96 L916.91 621.96 L916.91 621.96 L923.42 621.96 L923.42 625.47 L929.93 625.47 L929.93 615.84 L936.44 615.84 L936.44 608.83 L942.96 608.83 L942.96 600.96 L949.47 600.96 L949.47 604.98 L955.98 604.98 L955.98 605.68 L962.49 605.68 L962.49 610.59 L969 610.59 L969 592.2 L975.52 592.2 L975.52 602.18 L982.03 602.18 L982.03 574.17 L988.54 574.17 L988.54 559.46 L995.05 559.46 L995.05 589.23 L1001.56 589.23 L1001.56 570.32 L1008.08 570.32 L1008.08 523.4 L1014.59 523.4 L1014.59 547.21 L1021.1 547.21 L1021.1 579.07 L1027.61 579.07 L1027.61 544.41 L1034.12 544.41 L1034.12 582.92 L1040.64 582.92 L1040.64 564.72 L1047.15 564.72 L1047.15 544.93 L1053.66 544.93 L1053.66 537.06 L1060.17 537.06 L1060.17 521.3 L1066.68 521.3 L1066.68 526.9 L1073.2 526.9 L1073.2 512.55 L1079.71 512.55 L1079.71 527.43 L1086.22 527.43 L1086.22 506.42 L1092.73 506.42 L1092.73 507.64 L1099.24 507.64 L1099.24 510.45 L1105.76 510.45 L1105.76 532.68 L1112.27 532.68 L1112.27 489.44 L1118.78 489.44 L1118.78 511.15 L1125.29 511.15 L1125.29 483.13 L1131.8 483.13 L1131.8 483.13 L1138.32 483.13 L1138.32 490.66 L1144.83 490.66 L1144.83 479.28 L1151.34 479.28 L1151.34 469.65 L1157.85 469.65 L1157.85 472.28 L1164.36 472.28 L1164.36 461.43 L1170.88 461.43 L1170.88 470.18 L1177.39 470.18 L1177.39 440.77 L1183.9 440.77 L1183.9 642.9" stroke="#ff0000" stroke-width="2.3" fill="none"/>
<path d="M858.3 642.9V558.41H1183.9V642.9" stroke="#0000ff" stroke-width="2.3" stroke-dasharray="9.4 4.1" fill="none"/>
<path d="M1183.9 400.9V642.9" stroke="#000" stroke-width="2.0"/>
<rect x="1080.3" y="401.9" width="106.6" height="53.5" fill="#fff"/>
<path d="M858.3 400.9V642.9 M858.3 400.9H1183.9 M858.3 642.9H1183.9" stroke="#000" stroke-width="2.0" stroke-linecap="square" fill="none"/>
<path d="M858.3 472.63H849.5M858.3 558.41H849.5M858.3 643.85H849.5M858.3 642.9V651.7M939.7 642.9V651.7M1021.1 642.9V651.7M1102.5 642.9V651.7M1183.9 642.9V651.7" stroke="#000" stroke-width="2.0"/>
<text x="858.3" y="681.3" class="tl">0.00</text>
<text x="939.7" y="681.3" class="tl">0.05</text>
<text x="1021.1" y="681.3" class="tl">0.10</text>
<text x="1102.5" y="681.3" class="tl">0.15</text>
<text x="1183.9" y="681.3" class="tl">0.20</text>
<text x="1173.4" y="437.5" class="tt">0719</text>
<text x="1021.1" y="718.2" class="xl"><tspan dx="1.5" font-weight="bold">f</tspan><tspan class="sub" dx="0.8" dy="4.2" font-style="italic" font-weight="normal">r</tspan><tspan dx="0.6" dy="-4.2" font-weight="bold"> (−)</tspan></text>
<path d="M1251.2 642.9 L1251.2 562.44 L1257.71 562.44 L1257.71 559.82 L1264.22 559.82 L1264.22 560.69 L1270.74 560.69 L1270.74 571.72 L1277.25 571.72 L1277.25 551.94 L1283.76 551.94 L1283.76 557.71 L1290.27 557.71 L1290.27 550.71 L1296.78 550.71 L1296.78 539.68 L1303.3 539.68 L1303.3 547.91 L1309.81 547.91 L1309.81 543.71 L1316.32 543.71 L1316.32 546.16 L1322.83 546.16 L1322.83 539.68 L1329.34 539.68 L1329.34 564.19 L1335.86 564.19 L1335.86 557.19 L1342.37 557.19 L1342.37 556.66 L1348.88 556.66 L1348.88 543.71 L1355.39 543.71 L1355.39 553.16 L1361.9 553.16 L1361.9 543.71 L1368.42 543.71 L1368.42 559.46 L1374.93 559.46 L1374.93 554.56 L1381.44 554.56 L1381.44 556.66 L1387.95 556.66 L1387.95 551.94 L1394.46 551.94 L1394.46 541.96 L1400.98 541.96 L1400.98 565.42 L1407.49 565.42 L1407.49 556.66 L1414 556.66 L1414 532.15 L1420.51 532.15 L1420.51 543.18 L1427.02 543.18 L1427.02 547.56 L1433.54 547.56 L1433.54 547.91 L1440.05 547.91 L1440.05 539.68 L1446.56 539.68 L1446.56 559.46 L1453.07 559.46 L1453.07 547.91 L1459.58 547.91 L1459.58 536.18 L1466.1 536.18 L1466.1 552.46 L1472.61 552.46 L1472.61 527.43 L1479.12 527.43 L1479.12 556.66 L1485.63 556.66 L1485.63 542.31 L1492.14 542.31 L1492.14 550.71 L1498.66 550.71 L1498.66 531.45 L1505.17 531.45 L1505.17 547.21 L1511.68 547.21 L1511.68 548.96 L1518.19 548.96 L1518.19 552.46 L1524.7 552.46 L1524.7 554.56 L1531.22 554.56 L1531.22 541.96 L1537.73 541.96 L1537.73 537.41 L1544.24 537.41 L1544.24 555.44 L1550.75 555.44 L1550.75 554.21 L1557.26 554.21 L1557.26 546.16 L1563.78 546.16 L1563.78 532.68 L1570.29 532.68 L1570.29 547.21 L1576.8 547.21 L1576.8 642.9" stroke="#000" stroke-width="2.3" fill="none"/>
<path d="M1251.2 642.9 L1251.2 639.47 L1257.71 639.47 L1257.71 637.72 L1264.22 637.72 L1264.22 641.75 L1270.74 641.75 L1270.74 635.45 L1277.25 635.45 L1277.25 624.59 L1283.76 624.59 L1283.76 620.74 L1290.27 620.74 L1290.27 621.96 L1296.78 621.96 L1296.78 635.45 L1303.3 635.45 L1303.3 629.84 L1309.81 629.84 L1309.81 629.49 L1316.32 629.49 L1316.32 626.69 L1322.83 626.69 L1322.83 613.21 L1329.34 613.21 L1329.34 602.18 L1335.86 602.18 L1335.86 600.96 L1342.37 600.96 L1342.37 599.73 L1348.88 599.73 L1348.88 609.71 L1355.39 609.71 L1355.39 614.96 L1361.9 614.96 L1361.9 593.43 L1368.42 593.43 L1368.42 611.99 L1374.93 611.99 L1374.93 560.69 L1381.44 560.69 L1381.44 541.96 L1387.95 541.96 L1387.95 571.72 L1394.46 571.72 L1394.46 566.47 L1400.98 566.47 L1400.98 490.66 L1407.49 490.66 L1407.49 511.67 L1414 511.67 L1414 585.2 L1420.51 585.2 L1420.51 517.8 L1427.02 517.8 L1427.02 599.21 L1433.54 599.21 L1433.54 577.67 L1440.05 577.67 L1440.05 512.55 L1446.56 512.55 L1446.56 525.15 L1453.07 525.15 L1453.07 485.41 L1459.58 485.41 L1459.58 503.79 L1466.1 503.79 L1466.1 488.04 L1472.61 488.04 L1472.61 513.42 L1479.12 513.42 L1479.12 483.13 L1485.63 483.13 L1485.63 493.64 L1492.14 493.64 L1492.14 500.29 L1498.66 500.29 L1498.66 544.93 L1505.17 544.93 L1505.17 440.77 L1511.68 440.77 L1511.68 515.17 L1518.19 515.17 L1518.19 458.62 L1524.7 458.62 L1524.7 477.88 L1531.22 477.88 L1531.22 480.68 L1537.73 480.68 L1537.73 468.43 L1544.24 468.43 L1544.24 458.62 L1550.75 458.62 L1550.75 464.4 L1557.26 464.4 L1557.26 440.77 L1563.78 440.77 L1563.78 464.93 L1570.29 464.93 L1570.29 440.77 L1576.8 440.77 L1576.8 642.9" stroke="#ff0000" stroke-width="2.3" fill="none"/>
<path d="M1251.2 642.9V549.31H1576.8V642.9" stroke="#0000ff" stroke-width="2.3" stroke-dasharray="9.4 4.1" fill="none"/>
<path d="M1576.8 400.9V642.9" stroke="#000" stroke-width="2.0"/>
<rect x="1473.2" y="401.9" width="106.6" height="53.5" fill="#fff"/>
<path d="M1251.2 400.9V642.9 M1251.2 400.9H1576.8 M1251.2 642.9H1576.8" stroke="#000" stroke-width="2.0" stroke-linecap="square" fill="none"/>
<path d="M1251.2 454.77H1242.4M1251.2 549.31H1242.4M1251.2 643.85H1242.4M1251.2 642.9V651.7M1332.6 642.9V651.7M1414 642.9V651.7M1495.4 642.9V651.7M1576.8 642.9V651.7" stroke="#000" stroke-width="2.0"/>
<text x="1251.2" y="681.3" class="tl">0.00</text>
<text x="1332.6" y="681.3" class="tl">0.05</text>
<text x="1414" y="681.3" class="tl">0.10</text>
<text x="1495.4" y="681.3" class="tl">0.15</text>
<text x="1576.8" y="681.3" class="tl">0.20</text>
<text x="1566.3" y="437.5" class="tt">0745</text>
<text x="1414" y="718.2" class="xl"><tspan dx="1.5" font-weight="bold">f</tspan><tspan class="sub" dx="0.8" dy="4.2" font-style="italic" font-weight="normal">r</tspan><tspan dx="0.6" dy="-4.2" font-weight="bold"> (−)</tspan></text>
<path d="M1644.2 642.9 L1644.2 620.74 L1650.71 620.74 L1650.71 570.32 L1657.22 570.32 L1657.22 536.18 L1663.74 536.18 L1663.74 506.42 L1670.25 506.42 L1670.25 608.83 L1676.76 608.83 L1676.76 572.95 L1683.27 572.95 L1683.27 542.66 L1689.78 542.66 L1689.78 537.06 L1696.3 537.06 L1696.3 589.23 L1702.81 589.23 L1702.81 591.33 L1709.32 591.33 L1709.32 523.4 L1715.83 523.4 L1715.83 561.92 L1722.34 561.92 L1722.34 582.57 L1728.86 582.57 L1728.86 534.43 L1735.37 534.43 L1735.37 602.18 L1741.88 602.18 L1741.88 496.79 L1748.39 496.79 L1748.39 561.92 L1754.9 561.92 L1754.9 552.81 L1761.42 552.81 L1761.42 572.95 L1767.93 572.95 L1767.93 539.16 L1774.44 539.16 L1774.44 554.56 L1780.95 554.56 L1780.95 498.89 L1787.46 498.89 L1787.46 502.92 L1793.98 502.92 L1793.98 426.41 L1800.49 426.41 L1800.49 576.45 L1807 576.45 L1807 562.44 L1813.51 562.44 L1813.51 579.07 L1820.02 579.07 L1820.02 547.91 L1826.54 547.91 L1826.54 602.18 L1833.05 602.18 L1833.05 566.47 L1839.56 566.47 L1839.56 543.18 L1846.07 543.18 L1846.07 544.41 L1852.58 544.41 L1852.58 547.91 L1859.1 547.91 L1859.1 484.18 L1865.61 484.18 L1865.61 462.13 L1872.12 462.13 L1872.12 540.91 L1878.63 540.91 L1878.63 579.95 L1885.14 579.95 L1885.14 479.28 L1891.66 479.28 L1891.66 565.42 L1898.17 565.42 L1898.17 539.68 L1904.68 539.68 L1904.68 470.53 L1911.19 470.53 L1911.19 576.45 L1917.7 576.45 L1917.7 609.71 L1924.22 609.71 L1924.22 520.42 L1930.73 520.42 L1930.73 469.13 L1937.24 469.13 L1937.24 586.08 L1943.75 586.08 L1943.75 520.42 L1950.26 520.42 L1950.26 522.18 L1956.78 522.18 L1956.78 530.93 L1963.29 530.93 L1963.29 502.92 L1969.8 502.92 L1969.8 642.9" stroke="#000" stroke-width="2.3" fill="none"/>
<path d="M1644.2 642.9 L1644.2 642.1 L1650.71 642.1 L1650.71 642.1 L1657.22 642.1 L1657.22 639.47 L1663.74 639.47 L1663.74 634.22 L1670.25 634.22 L1670.25 624.24 L1676.76 624.24 L1676.76 622.84 L1683.27 622.84 L1683.27 619.34 L1689.78 619.34 L1689.78 626.69 L1696.3 626.69 L1696.3 616.71 L1702.81 616.71 L1702.81 617.94 L1709.32 617.94 L1709.32 621.96 L1715.83 621.96 L1715.83 610.59 L1722.34 610.59 L1722.34 600.43 L1728.86 600.43 L1728.86 592.2 L1735.37 592.2 L1735.37 597.46 L1741.88 597.46 L1741.88 598.68 L1748.39 598.68 L1748.39 604.98 L1754.9 604.98 L1754.9 582.22 L1761.42 582.22 L1761.42 594.83 L1767.93 594.83 L1767.93 559.46 L1774.44 559.46 L1774.44 545.81 L1780.95 545.81 L1780.95 580.47 L1787.46 580.47 L1787.46 557.71 L1793.98 557.71 L1793.98 497.67 L1800.49 497.67 L1800.49 529.7 L1807 529.7 L1807 570.32 L1813.51 570.32 L1813.51 527.43 L1820.02 527.43 L1820.02 576.45 L1826.54 576.45 L1826.54 552.46 L1833.05 552.46 L1833.05 528.3 L1839.56 528.3 L1839.56 519.9 L1846.07 519.9 L1846.07 501.69 L1852.58 501.69 L1852.58 508.69 L1859.1 508.69 L1859.1 491.54 L1865.61 491.54 L1865.61 511.67 L1872.12 511.67 L1872.12 482.78 L1878.63 482.78 L1878.63 486.64 L1885.14 486.64 L1885.14 490.14 L1891.66 490.14 L1891.66 520.42 L1898.17 520.42 L1898.17 465.63 L1904.68 465.63 L1904.68 492.41 L1911.19 492.41 L1911.19 459.68 L1917.7 459.68 L1917.7 458.27 L1924.22 458.27 L1924.22 471.4 L1930.73 471.4 L1930.73 457.92 L1937.24 457.92 L1937.24 440.77 L1943.75 440.77 L1943.75 440.77 L1950.26 440.77 L1950.26 440.77 L1956.78 440.77 L1956.78 440.77 L1963.29 440.77 L1963.29 440.77 L1969.8 440.77 L1969.8 642.9" stroke="#ff0000" stroke-width="2.3" fill="none"/>
<path d="M1644.2 642.9V544.93H1969.8V642.9" stroke="#0000ff" stroke-width="2.3" stroke-dasharray="9.4 4.1" fill="none"/>
<path d="M1969.8 400.9V642.9" stroke="#000" stroke-width="2.0"/>
<rect x="1866.2" y="401.9" width="106.6" height="53.5" fill="#fff"/>
<path d="M1644.2 400.9V642.9 M1644.2 400.9H1969.8 M1644.2 642.9H1969.8" stroke="#000" stroke-width="2.0" stroke-linecap="square" fill="none"/>
<path d="M1644.2 444.62H1635.4M1644.2 544.93H1635.4M1644.2 643.85H1635.4M1644.2 642.9V651.7M1725.6 642.9V651.7M1807 642.9V651.7M1888.4 642.9V651.7M1969.8 642.9V651.7" stroke="#000" stroke-width="2.0"/>
<text x="1644.2" y="681.3" class="tl">0.00</text>
<text x="1725.6" y="681.3" class="tl">0.05</text>
<text x="1807" y="681.3" class="tl">0.10</text>
<text x="1888.4" y="681.3" class="tl">0.15</text>
<text x="1969.8" y="681.3" class="tl">0.20</text>
<text x="1959.3" y="437.5" class="tt">0769</text>
<text x="1807" y="718.2" class="xl"><tspan dx="1.5" font-weight="bold">f</tspan><tspan class="sub" dx="0.8" dy="4.2" font-style="italic" font-weight="normal">r</tspan><tspan dx="0.6" dy="-4.2" font-weight="bold"> (−)</tspan></text>
<path d="M72.3 996.65 L72.3 772.88 L78.81 772.88 L78.81 765.88 L85.32 765.88 L85.32 994.7 L91.84 994.7 L91.84 996.65 L98.35 996.65 L98.35 996.65 L104.86 996.65 L104.86 996.65 L111.37 996.65 L111.37 996.65 L117.88 996.65 L117.88 996.65 L124.4 996.65 L124.4 996.65 L130.91 996.65 L130.91 996.65 L137.42 996.65 L137.42 996.65 L143.93 996.65 L143.93 996.65 L150.44 996.65 L150.44 996.65 L156.96 996.65 L156.96 996.65 L163.47 996.65 L163.47 996.65 L169.98 996.65 L169.98 996.65 L176.49 996.65 L176.49 996.65 L183 996.65 L183 996.65 L189.52 996.65 L189.52 996.65 L196.03 996.65 L196.03 996.65 L202.54 996.65 L202.54 996.65 L209.05 996.65 L209.05 996.65 L215.56 996.65 L215.56 996.65 L222.08 996.65 L222.08 996.65 L228.59 996.65 L228.59 996.65 L235.1 996.65 L235.1 996.65 L241.61 996.65 L241.61 996.65 L248.12 996.65 L248.12 996.65 L254.64 996.65 L254.64 996.65 L261.15 996.65 L261.15 996.65 L267.66 996.65 L267.66 996.65 L274.17 996.65 L274.17 996.65 L280.68 996.65 L280.68 996.65 L287.2 996.65 L287.2 996.65 L293.71 996.65 L293.71 996.65 L300.22 996.65 L300.22 996.65 L306.73 996.65 L306.73 996.65 L313.24 996.65 L313.24 996.65 L319.76 996.65 L319.76 996.65 L326.27 996.65 L326.27 996.65 L332.78 996.65 L332.78 996.65 L339.29 996.65 L339.29 996.65 L345.8 996.65 L345.8 996.65 L352.32 996.65 L352.32 996.65 L358.83 996.65 L358.83 996.65 L365.34 996.65 L365.34 996.65 L371.85 996.65 L371.85 996.65 L378.36 996.65 L378.36 996.65 L384.88 996.65 L384.88 996.65 L391.39 996.65 L391.39 996.65 L397.9 996.65 L397.9 996.65" stroke="#000" stroke-width="2.3" fill="none"/>
<path d="M72.3 996.65 L72.3 986.64 L78.81 986.64 L78.81 986.64 L85.32 986.64 L85.32 986.64 L91.84 986.64 L91.84 986.64 L98.35 986.64 L98.35 986.64 L104.86 986.64 L104.86 986.64 L111.37 986.64 L111.37 986.64 L117.88 986.64 L117.88 986.64 L124.4 986.64 L124.4 986.64 L130.91 986.64 L130.91 986.64 L137.42 986.64 L137.42 986.64 L143.93 986.64 L143.93 986.64 L150.44 986.64 L150.44 986.64 L156.96 986.64 L156.96 987.34 L163.47 987.34 L163.47 987.34 L169.98 987.34 L169.98 987.34 L176.49 987.34 L176.49 987.34 L183 987.34 L183 987.34 L189.52 987.34 L189.52 987.34 L196.03 987.34 L196.03 988.04 L202.54 988.04 L202.54 988.04 L209.05 988.04 L209.05 988.04 L215.56 988.04 L215.56 988.04 L222.08 988.04 L222.08 988.04 L228.59 988.04 L228.59 988.04 L235.1 988.04 L235.1 988.22 L241.61 988.22 L241.61 988.22 L248.12 988.22 L248.12 988.22 L254.64 988.22 L254.64 988.22 L261.15 988.22 L261.15 988.22 L267.66 988.22 L267.66 988.22 L274.17 988.22 L274.17 988.22 L280.68 988.22 L280.68 988.22 L287.2 988.22 L287.2 988.22 L293.71 988.22 L293.71 988.22 L300.22 988.22 L300.22 988.22 L306.73 988.22 L306.73 988.22 L313.24 988.22 L313.24 988.22 L319.76 988.22 L319.76 988.22 L326.27 988.22 L326.27 988.22 L332.78 988.22 L332.78 988.22 L339.29 988.22 L339.29 988.22 L345.8 988.22 L345.8 988.22 L352.32 988.22 L352.32 988.22 L358.83 988.22 L358.83 988.22 L365.34 988.22 L365.34 988.22 L371.85 988.22 L371.85 988.22 L378.36 988.22 L378.36 988.22 L384.88 988.22 L384.88 988.22 L391.39 988.22 L391.39 988.22 L397.9 988.22 L397.9 996.65" stroke="#ff0000" stroke-width="2.3" fill="none"/>
<path d="M72.3 996.65V988.22H397.9V996.65" stroke="#0000ff" stroke-width="2.3" stroke-dasharray="9.4 4.1" fill="none"/>
<path d="M397.9 754.65V996.65" stroke="#000" stroke-width="2.0"/>
<rect x="294.3" y="755.65" width="106.6" height="53.5" fill="#fff"/>
<path d="M72.3 754.65V996.65 M72.3 754.65H397.9 M72.3 996.65H397.9" stroke="#000" stroke-width="2.0" stroke-linecap="square" fill="none"/>
<path d="M72.3 814.9H63.5M72.3 905.94H63.5M72.3 996.97H63.5M72.3 996.65V1005.45M153.7 996.65V1005.45M235.1 996.65V1005.45M316.5 996.65V1005.45M397.9 996.65V1005.45" stroke="#000" stroke-width="2.0"/>
<text x="72.3" y="1035.05" class="tl">0.00</text>
<text x="153.7" y="1035.05" class="tl">0.05</text>
<text x="235.1" y="1035.05" class="tl">0.10</text>
<text x="316.5" y="1035.05" class="tl">0.15</text>
<text x="397.9" y="1035.05" class="tl">0.20</text>
<text x="387.4" y="791.25" class="tt">0028</text>
<text x="235.1" y="1071.95" class="xl"><tspan dx="1.5" font-weight="bold">f</tspan><tspan class="sub" dx="0.8" dy="4.2" font-style="italic" font-weight="normal">r</tspan><tspan dx="0.6" dy="-4.2" font-weight="bold"> (−)</tspan></text>
<path d="M465.3 996.65 L465.3 838.54 L471.81 838.54 L471.81 831.18 L478.32 831.18 L478.32 765.88 L484.84 765.88 L484.84 841.16 L491.35 841.16 L491.35 847.64 L497.86 847.64 L497.86 931.32 L504.37 931.32 L504.37 970.71 L510.88 970.71 L510.88 994.7 L517.4 994.7 L517.4 996.65 L523.91 996.65 L523.91 996.65 L530.42 996.65 L530.42 996.65 L536.93 996.65 L536.93 996.65 L543.44 996.65 L543.44 996.65 L549.96 996.65 L549.96 996.65 L556.47 996.65 L556.47 996.65 L562.98 996.65 L562.98 996.65 L569.49 996.65 L569.49 996.65 L576 996.65 L576 996.65 L582.52 996.65 L582.52 996.65 L589.03 996.65 L589.03 996.65 L595.54 996.65 L595.54 996.65 L602.05 996.65 L602.05 996.65 L608.56 996.65 L608.56 996.65 L615.08 996.65 L615.08 996.65 L621.59 996.65 L621.59 996.65 L628.1 996.65 L628.1 996.65 L634.61 996.65 L634.61 996.65 L641.12 996.65 L641.12 996.65 L647.64 996.65 L647.64 996.65 L654.15 996.65 L654.15 996.65 L660.66 996.65 L660.66 996.65 L667.17 996.65 L667.17 996.65 L673.68 996.65 L673.68 996.65 L680.2 996.65 L680.2 996.65 L686.71 996.65 L686.71 996.65 L693.22 996.65 L693.22 996.65 L699.73 996.65 L699.73 996.65 L706.24 996.65 L706.24 996.65 L712.76 996.65 L712.76 996.65 L719.27 996.65 L719.27 996.65 L725.78 996.65 L725.78 996.65 L732.29 996.65 L732.29 996.65 L738.8 996.65 L738.8 996.65 L745.32 996.65 L745.32 996.65 L751.83 996.65 L751.83 996.65 L758.34 996.65 L758.34 996.65 L764.85 996.65 L764.85 996.65 L771.36 996.65 L771.36 996.65 L777.88 996.65 L777.88 996.65 L784.39 996.65 L784.39 996.65 L790.9 996.65 L790.9 996.65" stroke="#000" stroke-width="2.3" fill="none"/>
<path d="M465.3 996.65 L465.3 985.59 L471.81 985.59 L471.81 982.97 L478.32 982.97 L478.32 982.97 L484.84 982.97 L484.84 982.44 L491.35 982.44 L491.35 981.74 L497.86 981.74 L497.86 981.74 L504.37 981.74 L504.37 980.69 L510.88 980.69 L510.88 980.69 L517.4 980.69 L517.4 980.34 L523.91 980.34 L523.91 979.47 L530.42 979.47 L530.42 979.47 L536.93 979.47 L536.93 979.47 L543.44 979.47 L543.44 979.12 L549.96 979.12 L549.96 979.12 L556.47 979.12 L556.47 978.59 L562.98 978.59 L562.98 978.59 L569.49 978.59 L569.49 978.24 L576 978.24 L576 978.24 L582.52 978.24 L582.52 977.89 L589.03 977.89 L589.03 977.89 L595.54 977.89 L595.54 977.54 L602.05 977.54 L602.05 977.54 L608.56 977.54 L608.56 977.37 L615.08 977.37 L615.08 977.19 L621.59 977.19 L621.59 977.19 L628.1 977.19 L628.1 977.02 L634.61 977.02 L634.61 977.02 L641.12 977.02 L641.12 977.02 L647.64 977.02 L647.64 977.02 L654.15 977.02 L654.15 975.44 L660.66 975.44 L660.66 975.44 L667.17 975.44 L667.17 975.44 L673.68 975.44 L673.68 975.44 L680.2 975.44 L680.2 975.44 L686.71 975.44 L686.71 975.44 L693.22 975.44 L693.22 975.44 L699.73 975.44 L699.73 975.44 L706.24 975.44 L706.24 975.44 L712.76 975.44 L712.76 975.44 L719.27 975.44 L719.27 975.44 L725.78 975.44 L725.78 975.44 L732.29 975.44 L732.29 974.39 L738.8 974.39 L738.8 974.39 L745.32 974.39 L745.32 975.44 L751.83 975.44 L751.83 974.74 L758.34 974.74 L758.34 974.74 L764.85 974.74 L764.85 974.74 L771.36 974.74 L771.36 974.74 L777.88 974.74 L777.88 974.74 L784.39 974.74 L784.39 974.74 L790.9 974.74 L790.9 996.65" stroke="#ff0000" stroke-width="2.3" fill="none"/>
<path d="M465.3 996.65V978.07H790.9V996.65" stroke="#0000ff" stroke-width="2.3" stroke-dasharray="9.4 4.1" fill="none"/>
<path d="M790.9 754.65V996.65" stroke="#000" stroke-width="2.0"/>
<rect x="687.3" y="755.65" width="106.6" height="53.5" fill="#fff"/>
<path d="M465.3 754.65V996.65 M465.3 754.65H790.9 M465.3 996.65H790.9" stroke="#000" stroke-width="2.0" stroke-linecap="square" fill="none"/>
<path d="M465.3 768.16H456.5M465.3 844.66H456.5M465.3 920.82H456.5M465.3 996.97H456.5M465.3 996.65V1005.45M546.7 996.65V1005.45M628.1 996.65V1005.45M709.5 996.65V1005.45M790.9 996.65V1005.45" stroke="#000" stroke-width="2.0"/>
<text x="465.3" y="1035.05" class="tl">0.00</text>
<text x="546.7" y="1035.05" class="tl">0.05</text>
<text x="628.1" y="1035.05" class="tl">0.10</text>
<text x="709.5" y="1035.05" class="tl">0.15</text>
<text x="790.9" y="1035.05" class="tl">0.20</text>
<text x="780.4" y="791.25" class="tt">0202</text>
<text x="628.1" y="1071.95" class="xl"><tspan dx="1.5" font-weight="bold">f</tspan><tspan class="sub" dx="0.8" dy="4.2" font-style="italic" font-weight="normal">r</tspan><tspan dx="0.6" dy="-4.2" font-weight="bold"> (−)</tspan></text>
<path d="M858.3 996.65 L858.3 935.17 L864.81 935.17 L864.81 878.8 L871.32 878.8 L871.32 786.89 L877.84 786.89 L877.84 802.65 L884.35 802.65 L884.35 869.17 L890.86 869.17 L890.86 803.87 L897.37 803.87 L897.37 847.64 L903.88 847.64 L903.88 834.68 L910.4 834.68 L910.4 854.29 L916.91 854.29 L916.91 778.14 L923.42 778.14 L923.42 772.01 L929.93 772.01 L929.93 765.88 L936.44 765.88 L936.44 831.88 L942.96 831.88 L942.96 775.86 L949.47 775.86 L949.47 793.89 L955.98 793.89 L955.98 787.76 L962.49 787.76 L962.49 834.68 L969 834.68 L969 786.89 L975.52 786.89 L975.52 861.29 L982.03 861.29 L982.03 789.17 L988.54 789.17 L988.54 797.39 L995.05 797.39 L995.05 899.46 L1001.56 899.46 L1001.56 881.95 L1008.08 881.95 L1008.08 824.88 L1014.59 824.88 L1014.59 894.56 L1021.1 894.56 L1021.1 954.96 L1027.61 954.96 L1027.61 933.07 L1034.12 933.07 L1034.12 978.59 L1040.64 978.59 L1040.64 973.34 L1047.15 973.34 L1047.15 964.94 L1053.66 964.94 L1053.66 971.94 L1060.17 971.94 L1060.17 970.71 L1066.68 970.71 L1066.68 978.24 L1073.2 978.24 L1073.2 980.69 L1079.71 980.69 L1079.71 985.24 L1086.22 985.24 L1086.22 985.24 L1092.73 985.24 L1092.73 987.34 L1099.24 987.34 L1099.24 989.97 L1105.76 989.97 L1105.76 992.95 L1112.27 992.95 L1112.27 990.5 L1118.78 990.5 L1118.78 992.95 L1125.29 992.95 L1125.29 993.47 L1131.8 993.47 L1131.8 994.35 L1138.32 994.35 L1138.32 994.35 L1144.83 994.35 L1144.83 994.35 L1151.34 994.35 L1151.34 994.7 L1157.85 994.7 L1157.85 995.22 L1164.36 995.22 L1164.36 995.57 L1170.88 995.57 L1170.88 995.57 L1177.39 995.57 L1177.39 995.57 L1183.9 995.57 L1183.9 996.65" stroke="#000" stroke-width="2.3" fill="none"/>
<path d="M858.3 996.65 L858.3 985.59 L864.81 985.59 L864.81 975.96 L871.32 975.96 L871.32 980.34 L877.84 980.34 L877.84 971.94 L884.35 971.94 L884.35 958.46 L890.86 958.46 L890.86 958.46 L897.37 958.46 L897.37 953.73 L903.88 953.73 L903.88 961.08 L910.4 961.08 L910.4 950.93 L916.91 950.93 L916.91 948.83 L923.42 948.83 L923.42 947.08 L929.93 947.08 L929.93 933.95 L936.44 933.95 L936.44 943.58 L942.96 943.58 L942.96 935.17 L949.47 935.17 L949.47 931.32 L955.98 931.32 L955.98 927.82 L962.49 927.82 L962.49 929.92 L969 929.92 L969 919.42 L975.52 919.42 L975.52 923.97 L982.03 923.97 L982.03 906.81 L988.54 906.81 L988.54 898.06 L995.05 898.06 L995.05 916.44 L1001.56 916.44 L1001.56 906.81 L1008.08 906.81 L1008.08 881.95 L1014.59 881.95 L1014.59 894.21 L1021.1 894.21 L1021.1 912.06 L1027.61 912.06 L1027.61 888.43 L1034.12 888.43 L1034.12 908.56 L1040.64 908.56 L1040.64 900.68 L1047.15 900.68 L1047.15 882.3 L1053.66 882.3 L1053.66 881.95 L1060.17 881.95 L1060.17 878.8 L1066.68 878.8 L1066.68 881.95 L1073.2 881.95 L1073.2 873.9 L1079.71 873.9 L1079.71 883.7 L1086.22 883.7 L1086.22 866.2 L1092.73 866.2 L1092.73 873.55 L1099.24 873.55 L1099.24 872.67 L1105.76 872.67 L1105.76 879.15 L1112.27 879.15 L1112.27 863.39 L1118.78 863.39 L1118.78 872.15 L1125.29 872.15 L1125.29 860.42 L1131.8 860.42 L1131.8 861.29 L1138.32 861.29 L1138.32 866.55 L1144.83 866.55 L1144.83 862.69 L1151.34 862.69 L1151.34 851.67 L1157.85 851.67 L1157.85 852.54 L1164.36 852.54 L1164.36 846.94 L1170.88 846.94 L1170.88 857.79 L1177.39 857.79 L1177.39 840.64 L1183.9 840.64 L1183.9 996.65" stroke="#ff0000" stroke-width="2.3" fill="none"/>
<path d="M858.3 996.65V905.41H1183.9V996.65" stroke="#0000ff" stroke-width="2.3" stroke-dasharray="9.4 4.1" fill="none"/>
<path d="M1183.9 754.65V996.65" stroke="#000" stroke-width="2.0"/>
<rect x="1080.3" y="755.65" width="106.6" height="53.5" fill="#fff"/>
<path d="M858.3 754.65V996.65 M858.3 754.65H1183.9 M858.3 996.65H1183.9" stroke="#000" stroke-width="2.0" stroke-linecap="square" fill="none"/>
<path d="M858.3 813.5H849.5M858.3 905.41H849.5M858.3 996.97H849.5M858.3 996.65V1005.45M939.7 996.65V1005.45M1021.1 996.65V1005.45M1102.5 996.65V1005.45M1183.9 996.65V1005.45" stroke="#000" stroke-width="2.0"/>
<text x="858.3" y="1035.05" class="tl">0.00</text>
<text x="939.7" y="1035.05" class="tl">0.05</text>
<text x="1021.1" y="1035.05" class="tl">0.10</text>
<text x="1102.5" y="1035.05" class="tl">0.15</text>
<text x="1183.9" y="1035.05" class="tl">0.20</text>
<text x="1173.4" y="791.25" class="tt">0407</text>
<text x="1021.1" y="1071.95" class="xl"><tspan dx="1.5" font-weight="bold">f</tspan><tspan class="sub" dx="0.8" dy="4.2" font-style="italic" font-weight="normal">r</tspan><tspan dx="0.6" dy="-4.2" font-weight="bold"> (−)</tspan></text>
<path d="M1251.2 996.65 L1251.2 957.58 L1257.71 957.58 L1257.71 938.68 L1264.22 938.68 L1264.22 923.97 L1270.74 923.97 L1270.74 941.48 L1277.25 941.48 L1277.25 916.44 L1283.76 916.44 L1283.76 926.42 L1290.27 926.42 L1290.27 930.97 L1296.78 930.97 L1296.78 934.82 L1303.3 934.82 L1303.3 891.93 L1309.81 891.93 L1309.81 872.15 L1316.32 872.15 L1316.32 865.15 L1322.83 865.15 L1322.83 886.68 L1329.34 886.68 L1329.34 895.43 L1335.86 895.43 L1335.86 895.43 L1342.37 895.43 L1342.37 905.94 L1348.88 905.94 L1348.88 851.67 L1355.39 851.67 L1355.39 908.56 L1361.9 908.56 L1361.9 845.54 L1368.42 845.54 L1368.42 888.96 L1374.93 888.96 L1374.93 890.18 L1381.44 890.18 L1381.44 863.92 L1387.95 863.92 L1387.95 918.72 L1394.46 918.72 L1394.46 870.05 L1400.98 870.05 L1400.98 765.88 L1407.49 765.88 L1407.49 867.42 L1414 867.42 L1414 926.42 L1420.51 926.42 L1420.51 880.9 L1427.02 880.9 L1427.02 964.24 L1433.54 964.24 L1433.54 959.33 L1440.05 959.33 L1440.05 935.17 L1446.56 935.17 L1446.56 953.73 L1453.07 953.73 L1453.07 953.73 L1459.58 953.73 L1459.58 974.21 L1466.1 974.21 L1466.1 978.24 L1472.61 978.24 L1472.61 988.22 L1479.12 988.22 L1479.12 989.1 L1485.63 989.1 L1485.63 991.2 L1492.14 991.2 L1492.14 994.35 L1498.66 994.35 L1498.66 995.22 L1505.17 995.22 L1505.17 994.35 L1511.68 994.35 L1511.68 995.75 L1518.19 995.75 L1518.19 995.75 L1524.7 995.75 L1524.7 995.75 L1531.22 995.75 L1531.22 995.75 L1537.73 995.75 L1537.73 995.75 L1544.24 995.75 L1544.24 995.75 L1550.75 995.75 L1550.75 995.75 L1557.26 995.75 L1557.26 995.75 L1563.78 995.75 L1563.78 995.75 L1570.29 995.75 L1570.29 995.75 L1576.8 995.75 L1576.8 996.65" stroke="#000" stroke-width="2.3" fill="none"/>
<path d="M1251.2 996.65 L1251.2 988.22 L1257.71 988.22 L1257.71 985.24 L1264.22 985.24 L1264.22 995.22 L1270.74 995.22 L1270.74 989.1 L1277.25 989.1 L1277.25 977.19 L1283.76 977.19 L1283.76 980.34 L1290.27 980.34 L1290.27 978.24 L1296.78 978.24 L1296.78 989.1 L1303.3 989.1 L1303.3 983.49 L1309.81 983.49 L1309.81 984.72 L1316.32 984.72 L1316.32 979.47 L1322.83 979.47 L1322.83 968.44 L1329.34 968.44 L1329.34 970.71 L1335.86 970.71 L1335.86 967.21 L1342.37 967.21 L1342.37 968.96 L1348.88 968.96 L1348.88 971.24 L1355.39 971.24 L1355.39 969.49 L1361.9 969.49 L1361.9 957.23 L1368.42 957.23 L1368.42 970.71 L1374.93 970.71 L1374.93 935.17 L1381.44 935.17 L1381.44 933.95 L1387.95 933.95 L1387.95 947.95 L1394.46 947.95 L1394.46 945.68 L1400.98 945.68 L1400.98 901.91 L1407.49 901.91 L1407.49 915.57 L1414 915.57 L1414 954.96 L1420.51 954.96 L1420.51 915.22 L1427.02 915.22 L1427.02 963.71 L1433.54 963.71 L1433.54 950.58 L1440.05 950.58 L1440.05 906.46 L1446.56 906.46 L1446.56 923.44 L1453.07 923.44 L1453.07 898.41 L1459.58 898.41 L1459.58 908.21 L1466.1 908.21 L1466.1 901.56 L1472.61 901.56 L1472.61 915.57 L1479.12 915.57 L1479.12 898.41 L1485.63 898.41 L1485.63 906.46 L1492.14 906.46 L1492.14 908.21 L1498.66 908.21 L1498.66 930.45 L1505.17 930.45 L1505.17 881.95 L1511.68 881.95 L1511.68 921.17 L1518.19 921.17 L1518.19 885.8 L1524.7 885.8 L1524.7 899.81 L1531.22 899.81 L1531.22 900.68 L1537.73 900.68 L1537.73 893.16 L1544.24 893.16 L1544.24 883.18 L1550.75 883.18 L1550.75 887.2 L1557.26 887.2 L1557.26 874.95 L1563.78 874.95 L1563.78 887.2 L1570.29 887.2 L1570.29 856.39 L1576.8 856.39 L1576.8 996.65" stroke="#ff0000" stroke-width="2.3" fill="none"/>
<path d="M1251.2 996.65V936.22H1576.8V996.65" stroke="#0000ff" stroke-width="2.3" stroke-dasharray="9.4 4.1" fill="none"/>
<path d="M1576.8 754.65V996.65" stroke="#000" stroke-width="2.0"/>
<rect x="1473.2" y="755.65" width="106.6" height="53.5" fill="#fff"/>
<path d="M1251.2 754.65V996.65 M1251.2 754.65H1576.8 M1251.2 996.65H1576.8" stroke="#000" stroke-width="2.0" stroke-linecap="square" fill="none"/>
<path d="M1251.2 814.9H1242.4M1251.2 875.3H1242.4M1251.2 936.22H1242.4M1251.2 996.97H1242.4M1251.2 996.65V1005.45M1332.6 996.65V1005.45M1414 996.65V1005.45M1495.4 996.65V1005.45M1576.8 996.65V1005.45" stroke="#000" stroke-width="2.0"/>
<text x="1251.2" y="1035.05" class="tl">0.00</text>
<text x="1332.6" y="1035.05" class="tl">0.05</text>
<text x="1414" y="1035.05" class="tl">0.10</text>
<text x="1495.4" y="1035.05" class="tl">0.15</text>
<text x="1576.8" y="1035.05" class="tl">0.20</text>
<text x="1566.3" y="791.25" class="tt">0410</text>
<text x="1414" y="1071.95" class="xl"><tspan dx="1.5" font-weight="bold">f</tspan><tspan class="sub" dx="0.8" dy="4.2" font-style="italic" font-weight="normal">r</tspan><tspan dx="0.6" dy="-4.2" font-weight="bold"> (−)</tspan></text>
<path d="M1644.2 996.65 L1644.2 835.91 L1650.71 835.91 L1650.71 831.88 L1657.22 831.88 L1657.22 765.88 L1663.74 765.88 L1663.74 775.51 L1670.25 775.51 L1670.25 820.15 L1676.76 820.15 L1676.76 786.89 L1683.27 786.89 L1683.27 818.4 L1689.78 818.4 L1689.78 920.47 L1696.3 920.47 L1696.3 959.68 L1702.81 959.68 L1702.81 989.97 L1709.32 989.97 L1709.32 994.7 L1715.83 994.7 L1715.83 996.45 L1722.34 996.45 L1722.34 996.45 L1728.86 996.45 L1728.86 996.45 L1735.37 996.45 L1735.37 996.45 L1741.88 996.45 L1741.88 996.45 L1748.39 996.45 L1748.39 996.45 L1754.9 996.45 L1754.9 996.45 L1761.42 996.45 L1761.42 996.45 L1767.93 996.45 L1767.93 996.45 L1774.44 996.45 L1774.44 996.45 L1780.95 996.45 L1780.95 996.45 L1787.46 996.45 L1787.46 996.45 L1793.98 996.45 L1793.98 996.45 L1800.49 996.45 L1800.49 996.45 L1807 996.45 L1807 996.45 L1813.51 996.45 L1813.51 996.45 L1820.02 996.45 L1820.02 996.45 L1826.54 996.45 L1826.54 996.45 L1833.05 996.45 L1833.05 996.45 L1839.56 996.45 L1839.56 996.45 L1846.07 996.45 L1846.07 996.45 L1852.58 996.45 L1852.58 996.45 L1859.1 996.45 L1859.1 996.45 L1865.61 996.45 L1865.61 996.45 L1872.12 996.45 L1872.12 996.45 L1878.63 996.45 L1878.63 996.45 L1885.14 996.45 L1885.14 996.45 L1891.66 996.45 L1891.66 996.45 L1898.17 996.45 L1898.17 996.45 L1904.68 996.45 L1904.68 996.45 L1911.19 996.45 L1911.19 996.45 L1917.7 996.45 L1917.7 996.45 L1924.22 996.45 L1924.22 996.45 L1930.73 996.45 L1930.73 996.45 L1937.24 996.45 L1937.24 996.45 L1943.75 996.45 L1943.75 996.45 L1950.26 996.45 L1950.26 996.45 L1956.78 996.45 L1956.78 996.45 L1963.29 996.45 L1963.29 996.45 L1969.8 996.45 L1969.8 996.65" stroke="#000" stroke-width="2.3" fill="none"/>
<path d="M1644.2 996.65 L1644.2 995.75 L1650.71 995.75 L1650.71 992.25 L1657.22 992.25 L1657.22 989.45 L1663.74 989.45 L1663.74 988.22 L1670.25 988.22 L1670.25 986.47 L1676.76 986.47 L1676.76 983.49 L1683.27 983.49 L1683.27 982.09 L1689.78 982.09 L1689.78 982.97 L1696.3 982.97 L1696.3 980.34 L1702.81 980.34 L1702.81 978.94 L1709.32 978.94 L1709.32 978.59 L1715.83 978.59 L1715.83 976.49 L1722.34 976.49 L1722.34 975.44 L1728.86 975.44 L1728.86 975.44 L1735.37 975.44 L1735.37 971.94 L1741.88 971.94 L1741.88 973.34 L1748.39 973.34 L1748.39 974.74 L1754.9 974.74 L1754.9 972.99 L1761.42 972.99 L1761.42 968.96 L1767.93 968.96 L1767.93 968.96 L1774.44 968.96 L1774.44 963.18 L1780.95 963.18 L1780.95 969.49 L1787.46 969.49 L1787.46 967.21 L1793.98 967.21 L1793.98 960.73 L1800.49 960.73 L1800.49 963.18 L1807 963.18 L1807 968.09 L1813.51 968.09 L1813.51 963.71 L1820.02 963.71 L1820.02 965.46 L1826.54 965.46 L1826.54 963.18 L1833.05 963.18 L1833.05 963.18 L1839.56 963.18 L1839.56 959.68 L1846.07 959.68 L1846.07 960.73 L1852.58 960.73 L1852.58 960.73 L1859.1 960.73 L1859.1 957.23 L1865.61 957.23 L1865.61 960.73 L1872.12 960.73 L1872.12 955.83 L1878.63 955.83 L1878.63 957.23 L1885.14 957.23 L1885.14 955.83 L1891.66 955.83 L1891.66 958.46 L1898.17 958.46 L1898.17 955.83 L1904.68 955.83 L1904.68 954.96 L1911.19 954.96 L1911.19 954.43 L1917.7 954.43 L1917.7 953.73 L1924.22 953.73 L1924.22 954.43 L1930.73 954.43 L1930.73 954.43 L1937.24 954.43 L1937.24 952.33 L1943.75 952.33 L1943.75 952.33 L1950.26 952.33 L1950.26 950.93 L1956.78 950.93 L1956.78 953.73 L1963.29 953.73 L1963.29 950.93 L1969.8 950.93 L1969.8 996.65" stroke="#ff0000" stroke-width="2.3" fill="none"/>
<path d="M1644.2 996.65V967.56H1969.8V996.65" stroke="#0000ff" stroke-width="2.3" stroke-dasharray="9.4 4.1" fill="none"/>
<path d="M1969.8 754.65V996.65" stroke="#000" stroke-width="2.0"/>
<rect x="1866.2" y="755.65" width="106.6" height="53.5" fill="#fff"/>
<path d="M1644.2 754.65V996.65 M1644.2 754.65H1969.8 M1644.2 996.65H1969.8" stroke="#000" stroke-width="2.0" stroke-linecap="square" fill="none"/>
<path d="M1644.2 762.03H1635.4M1644.2 880.2H1635.4M1644.2 996.97H1635.4M1644.2 996.65V1005.45M1725.6 996.65V1005.45M1807 996.65V1005.45M1888.4 996.65V1005.45M1969.8 996.65V1005.45" stroke="#000" stroke-width="2.0"/>
<text x="1644.2" y="1035.05" class="tl">0.00</text>
<text x="1725.6" y="1035.05" class="tl">0.05</text>
<text x="1807" y="1035.05" class="tl">0.10</text>
<text x="1888.4" y="1035.05" class="tl">0.15</text>
<text x="1969.8" y="1035.05" class="tl">0.20</text>
<text x="1959.3" y="791.25" class="tt">0503</text>
<text x="1807" y="1071.95" class="xl"><tspan dx="1.5" font-weight="bold">f</tspan><tspan class="sub" dx="0.8" dy="4.2" font-style="italic" font-weight="normal">r</tspan><tspan dx="0.6" dy="-4.2" font-weight="bold"> (−)</tspan></text>
<path d="M72.3 1349 L72.3 1274.22 L78.81 1274.22 L78.81 1319.74 L85.32 1319.74 L85.32 1291.2 L91.84 1291.2 L91.84 1255.66 L98.35 1255.66 L98.35 1238.15 L104.86 1238.15 L104.86 1263.19 L111.37 1263.19 L111.37 1310.98 L117.88 1310.98 L117.88 1296.98 L124.4 1296.98 L124.4 1216.45 L130.91 1216.45 L130.91 1210.14 L137.42 1210.14 L137.42 1233.43 L143.93 1233.43 L143.93 1259.16 L150.44 1259.16 L150.44 1296.98 L156.96 1296.98 L156.96 1119.11 L163.47 1119.11 L163.47 1274.22 L169.98 1274.22 L169.98 1267.92 L176.49 1267.92 L176.49 1336.72 L183 1336.72 L183 1195.44 L189.52 1195.44 L189.52 1255.66 L196.03 1255.66 L196.03 1244.46 L202.54 1244.46 L202.54 1282.45 L209.05 1282.45 L209.05 1293.48 L215.56 1293.48 L215.56 1237.45 L222.08 1237.45 L222.08 1282.45 L228.59 1282.45 L228.59 1265.46 L235.1 1265.46 L235.1 1201.91 L241.61 1201.91 L241.61 1266.69 L248.12 1266.69 L248.12 1174.43 L254.64 1174.43 L254.64 1222.92 L261.15 1222.92 L261.15 1242.18 L267.66 1242.18 L267.66 1337.94 L274.17 1337.94 L274.17 1262.31 L280.68 1262.31 L280.68 1326.74 L287.2 1326.74 L287.2 1280.17 L293.71 1280.17 L293.71 1226.95 L300.22 1226.95 L300.22 1288.92 L306.73 1288.92 L306.73 1301.18 L313.24 1301.18 L313.24 1280.7 L319.76 1280.7 L319.76 1346.7 L326.27 1346.7 L326.27 1248.66 L332.78 1248.66 L332.78 1229.93 L339.29 1229.93 L339.29 1241.31 L345.8 1241.31 L345.8 1188.78 L352.32 1188.78 L352.32 1146.77 L358.83 1146.77 L358.83 1287.17 L365.34 1287.17 L365.34 1337.59 L371.85 1337.59 L371.85 1241.31 L378.36 1241.31 L378.36 1214.17 L384.88 1214.17 L384.88 1312.21 L391.39 1312.21 L391.39 1339.34 L397.9 1339.34 L397.9 1349" stroke="#000" stroke-width="2.3" fill="none"/>
<path d="M72.3 1349 L72.3 1349 L78.81 1349 L78.81 1349 L85.32 1349 L85.32 1349 L91.84 1349 L91.84 1343.2 L98.35 1343.2 L98.35 1337.59 L104.86 1337.59 L104.86 1325.69 L111.37 1325.69 L111.37 1335.49 L117.88 1335.49 L117.88 1345.47 L124.4 1345.47 L124.4 1342.85 L130.91 1342.85 L130.91 1340.75 L137.42 1340.75 L137.42 1341.45 L143.93 1341.45 L143.93 1331.47 L150.44 1331.47 L150.44 1308.71 L156.96 1308.71 L156.96 1310.98 L163.47 1310.98 L163.47 1306.43 L169.98 1306.43 L169.98 1320.96 L176.49 1320.96 L176.49 1336.72 L183 1336.72 L183 1312.21 L189.52 1312.21 L189.52 1328.49 L196.03 1328.49 L196.03 1280.7 L202.54 1280.7 L202.54 1247.43 L209.05 1247.43 L209.05 1278.95 L215.56 1278.95 L215.56 1278.95 L222.08 1278.95 L222.08 1191.94 L228.59 1191.94 L228.59 1208.04 L235.1 1208.04 L235.1 1303.98 L241.61 1303.98 L241.61 1228.18 L248.12 1228.18 L248.12 1320.96 L254.64 1320.96 L254.64 1296.98 L261.15 1296.98 L261.15 1231.15 L267.66 1231.15 L267.66 1232.2 L274.17 1232.2 L274.17 1194.39 L280.68 1194.39 L280.68 1219.95 L287.2 1219.95 L287.2 1195.44 L293.71 1195.44 L293.71 1225.2 L300.22 1225.2 L300.22 1194.39 L306.73 1194.39 L306.73 1198.94 L313.24 1198.94 L313.24 1215.04 L319.76 1215.04 L319.76 1269.67 L326.27 1269.67 L326.27 1146.77 L332.78 1146.77 L332.78 1215.04 L339.29 1215.04 L339.29 1166.38 L345.8 1166.38 L345.8 1187.91 L352.32 1187.91 L352.32 1186.16 L358.83 1186.16 L358.83 1174.43 L365.34 1174.43 L365.34 1178.63 L371.85 1178.63 L371.85 1187.38 L378.36 1187.38 L378.36 1177.4 L384.88 1177.4 L384.88 1190.89 L391.39 1190.89 L391.39 1146.77 L397.9 1146.77 L397.9 1349" stroke="#ff0000" stroke-width="2.3" fill="none"/>
<path d="M72.3 1349V1261.96H397.9V1349" stroke="#0000ff" stroke-width="2.3" stroke-dasharray="9.4 4.1" fill="none"/>
<path d="M397.9 1107V1349" stroke="#000" stroke-width="2.0"/>
<rect x="294.3" y="1108" width="106.6" height="53.5" fill="#fff"/>
<path d="M72.3 1107V1349 M72.3 1107H397.9 M72.3 1349H397.9" stroke="#000" stroke-width="2.0" stroke-linecap="square" fill="none"/>
<path d="M72.3 1173.9H63.5M72.3 1261.96H63.5M72.3 1349.5H63.5M72.3 1349V1357.8M153.7 1349V1357.8M235.1 1349V1357.8M316.5 1349V1357.8M397.9 1349V1357.8" stroke="#000" stroke-width="2.0"/>
<text x="72.3" y="1387.4" class="tl">0.00</text>
<text x="153.7" y="1387.4" class="tl">0.05</text>
<text x="235.1" y="1387.4" class="tl">0.10</text>
<text x="316.5" y="1387.4" class="tl">0.15</text>
<text x="397.9" y="1387.4" class="tl">0.20</text>
<text x="387.4" y="1143.6" class="tt">0706</text>
<text x="235.1" y="1424.3" class="xl"><tspan dx="1.5" font-weight="bold">f</tspan><tspan class="sub" dx="0.8" dy="4.2" font-style="italic" font-weight="normal">r</tspan><tspan dx="0.6" dy="-4.2" font-weight="bold"> (−)</tspan></text>
<path d="M465.3 1349 L465.3 1270.72 L471.81 1270.72 L471.81 1306.96 L478.32 1306.96 L478.32 1292.43 L484.84 1292.43 L484.84 1295.93 L491.35 1295.93 L491.35 1312.21 L497.86 1312.21 L497.86 1288.92 L504.37 1288.92 L504.37 1317.99 L510.88 1317.99 L510.88 1277.72 L517.4 1277.72 L517.4 1300.83 L523.91 1300.83 L523.91 1330.59 L530.42 1330.59 L530.42 1281.57 L536.93 1281.57 L536.93 1277.72 L543.44 1277.72 L543.44 1271.94 L549.96 1271.94 L549.96 1244.46 L556.47 1244.46 L556.47 1302.93 L562.98 1302.93 L562.98 1317.99 L569.49 1317.99 L569.49 1247.43 L576 1247.43 L576 1301.18 L582.52 1301.18 L582.52 1252.16 L589.03 1252.16 L589.03 1277.72 L595.54 1277.72 L595.54 1308.18 L602.05 1308.18 L602.05 1249.71 L608.56 1249.71 L608.56 1301.18 L615.08 1301.18 L615.08 1284.2 L621.59 1284.2 L621.59 1276.67 L628.1 1276.67 L628.1 1280.7 L634.61 1280.7 L634.61 1275.44 L641.12 1275.44 L641.12 1263.19 L647.64 1263.19 L647.64 1267.57 L654.15 1267.57 L654.15 1266.69 L660.66 1266.69 L660.66 1263.19 L667.17 1263.19 L667.17 1287.7 L673.68 1287.7 L673.68 1277.72 L680.2 1277.72 L680.2 1271.42 L686.71 1271.42 L686.71 1246.91 L693.22 1246.91 L693.22 1244.46 L699.73 1244.46 L699.73 1256.19 L706.24 1256.19 L706.24 1242.18 L712.76 1242.18 L712.76 1211.54 L719.27 1211.54 L719.27 1236.4 L725.78 1236.4 L725.78 1194.39 L732.29 1194.39 L732.29 1222.92 L738.8 1222.92 L738.8 1222.92 L745.32 1222.92 L745.32 1228.7 L751.83 1228.7 L751.83 1222.92 L758.34 1222.92 L758.34 1200.16 L764.85 1200.16 L764.85 1187.03 L771.36 1187.03 L771.36 1219.95 L777.88 1219.95 L777.88 1197.19 L784.39 1197.19 L784.39 1146.77 L790.9 1146.77 L790.9 1349" stroke="#000" stroke-width="2.3" fill="none"/>
<path d="M465.3 1349 L465.3 1349 L471.81 1349 L471.81 1349 L478.32 1349 L478.32 1349 L484.84 1349 L484.84 1345.47 L491.35 1345.47 L491.35 1342.5 L497.86 1342.5 L497.86 1314.48 L504.37 1314.48 L504.37 1341.45 L510.88 1341.45 L510.88 1347.75 L517.4 1347.75 L517.4 1347.75 L523.91 1347.75 L523.91 1344.25 L530.42 1344.25 L530.42 1345.47 L536.93 1345.47 L536.93 1331.47 L543.44 1331.47 L543.44 1313.43 L549.96 1313.43 L549.96 1314.83 L556.47 1314.83 L556.47 1299.95 L562.98 1299.95 L562.98 1320.96 L569.49 1320.96 L569.49 1341.45 L576 1341.45 L576 1319.74 L582.52 1319.74 L582.52 1336.72 L589.03 1336.72 L589.03 1298.73 L595.54 1298.73 L595.54 1244.46 L602.05 1244.46 L602.05 1268.97 L608.56 1268.97 L608.56 1290.68 L615.08 1290.68 L615.08 1189.13 L621.59 1189.13 L621.59 1180.91 L628.1 1180.91 L628.1 1308.71 L634.61 1308.71 L634.61 1227.65 L641.12 1227.65 L641.12 1333.22 L647.64 1333.22 L647.64 1313.43 L654.15 1313.43 L654.15 1226.42 L660.66 1226.42 L660.66 1231.68 L667.17 1231.68 L667.17 1203.14 L673.68 1203.14 L673.68 1225.2 L680.2 1225.2 L680.2 1191.94 L686.71 1191.94 L686.71 1222.4 L693.22 1222.4 L693.22 1189.66 L699.73 1189.66 L699.73 1196.66 L706.24 1196.66 L706.24 1233.95 L712.76 1233.95 L712.76 1277.72 L719.27 1277.72 L719.27 1146.77 L725.78 1146.77 L725.78 1204.19 L732.29 1204.19 L732.29 1165.15 L738.8 1165.15 L738.8 1198.41 L745.32 1198.41 L745.32 1167.43 L751.83 1167.43 L751.83 1165.15 L758.34 1165.15 L758.34 1188.43 L764.85 1188.43 L764.85 1190.89 L771.36 1190.89 L771.36 1194.39 L777.88 1194.39 L777.88 1194.39 L784.39 1194.39 L784.39 1146.77 L790.9 1146.77 L790.9 1349" stroke="#ff0000" stroke-width="2.3" fill="none"/>
<path d="M465.3 1349V1262.66H790.9V1349" stroke="#0000ff" stroke-width="2.3" stroke-dasharray="9.4 4.1" fill="none"/>
<path d="M790.9 1107V1349" stroke="#000" stroke-width="2.0"/>
<rect x="687.3" y="1108" width="106.6" height="53.5" fill="#fff"/>
<path d="M465.3 1107V1349 M465.3 1107H790.9 M465.3 1349H790.9" stroke="#000" stroke-width="2.0" stroke-linecap="square" fill="none"/>
<path d="M465.3 1176.18H456.5M465.3 1263.19H456.5M465.3 1349.5H456.5M465.3 1349V1357.8M546.7 1349V1357.8M628.1 1349V1357.8M709.5 1349V1357.8M790.9 1349V1357.8" stroke="#000" stroke-width="2.0"/>
<text x="465.3" y="1387.4" class="tl">0.00</text>
<text x="546.7" y="1387.4" class="tl">0.05</text>
<text x="628.1" y="1387.4" class="tl">0.10</text>
<text x="709.5" y="1387.4" class="tl">0.15</text>
<text x="790.9" y="1387.4" class="tl">0.20</text>
<text x="780.4" y="1143.6" class="tt">0720</text>
<text x="628.1" y="1424.3" class="xl"><tspan dx="1.5" font-weight="bold">f</tspan><tspan class="sub" dx="0.8" dy="4.2" font-style="italic" font-weight="normal">r</tspan><tspan dx="0.6" dy="-4.2" font-weight="bold"> (−)</tspan></text>
<path d="M858.3 1349 L858.3 1298.73 L864.81 1298.73 L864.81 1320.96 L871.32 1320.96 L871.32 1276.67 L877.84 1276.67 L877.84 1301.18 L884.35 1301.18 L884.35 1285.42 L890.86 1285.42 L890.86 1293.48 L897.37 1293.48 L897.37 1302.23 L903.88 1302.23 L903.88 1316.94 L910.4 1316.94 L910.4 1293.48 L916.91 1293.48 L916.91 1260.56 L923.42 1260.56 L923.42 1306.96 L929.93 1306.96 L929.93 1288.57 L936.44 1288.57 L936.44 1254.44 L942.96 1254.44 L942.96 1250.93 L949.47 1250.93 L949.47 1274.22 L955.98 1274.22 L955.98 1280.7 L962.49 1280.7 L962.49 1243.41 L969 1243.41 L969 1256.71 L975.52 1256.71 L975.52 1247.43 L982.03 1247.43 L982.03 1306.08 L988.54 1306.08 L988.54 1268.44 L995.05 1268.44 L995.05 1276.32 L1001.56 1276.32 L1001.56 1260.56 L1008.08 1260.56 L1008.08 1283.67 L1014.59 1283.67 L1014.59 1260.91 L1021.1 1260.91 L1021.1 1264.94 L1027.61 1264.94 L1027.61 1262.66 L1034.12 1262.66 L1034.12 1281.57 L1040.64 1281.57 L1040.64 1249.71 L1047.15 1249.71 L1047.15 1282.45 L1053.66 1282.45 L1053.66 1233.43 L1060.17 1233.43 L1060.17 1222.4 L1066.68 1222.4 L1066.68 1286.47 L1073.2 1286.47 L1073.2 1245.68 L1079.71 1245.68 L1079.71 1316.94 L1086.22 1316.94 L1086.22 1231.15 L1092.73 1231.15 L1092.73 1284.2 L1099.24 1284.2 L1099.24 1262.66 L1105.76 1262.66 L1105.76 1257.94 L1112.27 1257.94 L1112.27 1246.91 L1118.78 1246.91 L1118.78 1260.91 L1125.29 1260.91 L1125.29 1228.18 L1131.8 1228.18 L1131.8 1223.8 L1138.32 1223.8 L1138.32 1232.2 L1144.83 1232.2 L1144.83 1247.43 L1151.34 1247.43 L1151.34 1211.19 L1157.85 1211.19 L1157.85 1207.69 L1164.36 1207.69 L1164.36 1220.65 L1170.88 1220.65 L1170.88 1231.15 L1177.39 1231.15 L1177.39 1277.72 L1183.9 1277.72 L1183.9 1349" stroke="#000" stroke-width="2.3" fill="none"/>
<path d="M858.3 1349 L858.3 1349 L864.81 1349 L864.81 1349 L871.32 1349 L871.32 1349 L877.84 1349 L877.84 1345.47 L884.35 1345.47 L884.35 1345.47 L890.86 1345.47 L890.86 1310.98 L897.37 1310.98 L897.37 1344.95 L903.88 1344.95 L903.88 1349 L910.4 1349 L910.4 1349 L916.91 1349 L916.91 1345.47 L923.42 1345.47 L923.42 1346.7 L929.93 1346.7 L929.93 1333.22 L936.44 1333.22 L936.44 1316.94 L942.96 1316.94 L942.96 1316.94 L949.47 1316.94 L949.47 1298.73 L955.98 1298.73 L955.98 1319.74 L962.49 1319.74 L962.49 1344.6 L969 1344.6 L969 1323.24 L975.52 1323.24 L975.52 1339.69 L982.03 1339.69 L982.03 1306.96 L988.54 1306.96 L988.54 1245.68 L995.05 1245.68 L995.05 1268.44 L1001.56 1268.44 L1001.56 1295.58 L1008.08 1295.58 L1008.08 1191.94 L1014.59 1191.94 L1014.59 1175.65 L1021.1 1175.65 L1021.1 1311.33 L1027.61 1311.33 L1027.61 1232.55 L1034.12 1232.55 L1034.12 1338.47 L1040.64 1338.47 L1040.64 1320.96 L1047.15 1320.96 L1047.15 1229.93 L1053.66 1229.93 L1053.66 1236.4 L1060.17 1236.4 L1060.17 1212.94 L1066.68 1212.94 L1066.68 1232.2 L1073.2 1232.2 L1073.2 1196.66 L1079.71 1196.66 L1079.71 1223.45 L1086.22 1223.45 L1086.22 1194.04 L1092.73 1194.04 L1092.73 1200.16 L1099.24 1200.16 L1099.24 1247.43 L1105.76 1247.43 L1105.76 1284.72 L1112.27 1284.72 L1112.27 1146.77 L1118.78 1146.77 L1118.78 1204.19 L1125.29 1204.19 L1125.29 1170.93 L1131.8 1170.93 L1131.8 1208.04 L1138.32 1208.04 L1138.32 1162.52 L1144.83 1162.52 L1144.83 1164.27 L1151.34 1164.27 L1151.34 1197.54 L1157.85 1197.54 L1157.85 1195.44 L1164.36 1195.44 L1164.36 1207.17 L1170.88 1207.17 L1170.88 1200.16 L1177.39 1200.16 L1177.39 1146.77 L1183.9 1146.77 L1183.9 1349" stroke="#ff0000" stroke-width="2.3" fill="none"/>
<path d="M858.3 1349V1265.82H1183.9V1349" stroke="#0000ff" stroke-width="2.3" stroke-dasharray="9.4 4.1" fill="none"/>
<path d="M1183.9 1107V1349" stroke="#000" stroke-width="2.0"/>
<rect x="1080.3" y="1108" width="106.6" height="53.5" fill="#fff"/>
<path d="M858.3 1107V1349 M858.3 1107H1183.9 M858.3 1349H1183.9" stroke="#000" stroke-width="2.0" stroke-linecap="square" fill="none"/>
<path d="M858.3 1182.13H849.5M858.3 1265.82H849.5M858.3 1349.5H849.5M858.3 1349V1357.8M939.7 1349V1357.8M1021.1 1349V1357.8M1102.5 1349V1357.8M1183.9 1349V1357.8" stroke="#000" stroke-width="2.0"/>
<text x="858.3" y="1387.4" class="tl">0.00</text>
<text x="939.7" y="1387.4" class="tl">0.05</text>
<text x="1021.1" y="1387.4" class="tl">0.10</text>
<text x="1102.5" y="1387.4" class="tl">0.15</text>
<text x="1183.9" y="1387.4" class="tl">0.20</text>
<text x="1173.4" y="1143.6" class="tt">0744</text>
<text x="1021.1" y="1424.3" class="xl"><tspan dx="1.5" font-weight="bold">f</tspan><tspan class="sub" dx="0.8" dy="4.2" font-style="italic" font-weight="normal">r</tspan><tspan dx="0.6" dy="-4.2" font-weight="bold"> (−)</tspan></text>
<path d="M1251.2 1349 L1251.2 1305.21 L1257.71 1305.21 L1257.71 1276.67 L1264.22 1276.67 L1264.22 1289.97 L1270.74 1289.97 L1270.74 1303.46 L1277.25 1303.46 L1277.25 1252.16 L1283.76 1252.16 L1283.76 1266.69 L1290.27 1266.69 L1290.27 1280.7 L1296.78 1280.7 L1296.78 1276.67 L1303.3 1276.67 L1303.3 1229.93 L1309.81 1229.93 L1309.81 1244.81 L1316.32 1244.81 L1316.32 1221.7 L1322.83 1221.7 L1322.83 1257.06 L1329.34 1257.06 L1329.34 1253.21 L1335.86 1253.21 L1335.86 1259.69 L1342.37 1259.69 L1342.37 1252.16 L1348.88 1252.16 L1348.88 1210.14 L1355.39 1210.14 L1355.39 1263.19 L1361.9 1263.19 L1361.9 1218.9 L1368.42 1218.9 L1368.42 1231.15 L1374.93 1231.15 L1374.93 1237.45 L1381.44 1237.45 L1381.44 1225.2 L1387.95 1225.2 L1387.95 1260.91 L1394.46 1260.91 L1394.46 1229.4 L1400.98 1229.4 L1400.98 1119.63 L1407.49 1119.63 L1407.49 1211.89 L1414 1211.89 L1414 1254.44 L1420.51 1254.44 L1420.51 1216.8 L1427.02 1216.8 L1427.02 1297.33 L1433.54 1297.33 L1433.54 1286.47 L1440.05 1286.47 L1440.05 1262.66 L1446.56 1262.66 L1446.56 1281.92 L1453.07 1281.92 L1453.07 1274.22 L1459.58 1274.22 L1459.58 1306.96 L1466.1 1306.96 L1466.1 1313.08 L1472.61 1313.08 L1472.61 1330.94 L1479.12 1330.94 L1479.12 1332.69 L1485.63 1332.69 L1485.63 1339.69 L1492.14 1339.69 L1492.14 1345.47 L1498.66 1345.47 L1498.66 1347.22 L1505.17 1347.22 L1505.17 1346.35 L1511.68 1346.35 L1511.68 1347.75 L1518.19 1347.75 L1518.19 1348.97 L1524.7 1348.97 L1524.7 1348.97 L1531.22 1348.97 L1531.22 1348.97 L1537.73 1348.97 L1537.73 1348.97 L1544.24 1348.97 L1544.24 1348.97 L1550.75 1348.97 L1550.75 1348.97 L1557.26 1348.97 L1557.26 1348.97 L1563.78 1348.97 L1563.78 1348.97 L1570.29 1348.97 L1570.29 1348.97 L1576.8 1348.97 L1576.8 1349" stroke="#000" stroke-width="2.3" fill="none"/>
<path d="M1251.2 1349 L1251.2 1349 L1257.71 1349 L1257.71 1349 L1264.22 1349 L1264.22 1349 L1270.74 1349 L1270.74 1345.47 L1277.25 1345.47 L1277.25 1342.5 L1283.76 1342.5 L1283.76 1327.96 L1290.27 1327.96 L1290.27 1340.22 L1296.78 1340.22 L1296.78 1346.7 L1303.3 1346.7 L1303.3 1346 L1309.81 1346 L1309.81 1344.25 L1316.32 1344.25 L1316.32 1345.47 L1322.83 1345.47 L1322.83 1336.72 L1329.34 1336.72 L1329.34 1320.96 L1335.86 1320.96 L1335.86 1321.84 L1342.37 1321.84 L1342.37 1314.83 L1348.88 1314.83 L1348.88 1327.96 L1355.39 1327.96 L1355.39 1341.45 L1361.9 1341.45 L1361.9 1324.46 L1368.42 1324.46 L1368.42 1336.72 L1374.93 1336.72 L1374.93 1303.98 L1381.44 1303.98 L1381.44 1271.94 L1387.95 1271.94 L1387.95 1293.83 L1394.46 1293.83 L1394.46 1300.48 L1400.98 1300.48 L1400.98 1231.15 L1407.49 1231.15 L1407.49 1235.7 L1414 1235.7 L1414 1316.94 L1420.51 1316.94 L1420.51 1259.16 L1427.02 1259.16 L1427.02 1333.22 L1433.54 1333.22 L1433.54 1315.71 L1440.05 1315.71 L1440.05 1259.69 L1446.56 1259.69 L1446.56 1260.91 L1453.07 1260.91 L1453.07 1234.65 L1459.58 1234.65 L1459.58 1254.44 L1466.1 1254.44 L1466.1 1232.55 L1472.61 1232.55 L1472.61 1256.19 L1479.12 1256.19 L1479.12 1231.15 L1485.63 1231.15 L1485.63 1235.7 L1492.14 1235.7 L1492.14 1254.44 L1498.66 1254.44 L1498.66 1292.43 L1505.17 1292.43 L1505.17 1194.04 L1511.68 1194.04 L1511.68 1246.21 L1518.19 1246.21 L1518.19 1211.54 L1524.7 1211.54 L1524.7 1231.68 L1531.22 1231.68 L1531.22 1221.17 L1537.73 1221.17 L1537.73 1215.39 L1544.24 1215.39 L1544.24 1224.67 L1550.75 1224.67 L1550.75 1228.7 L1557.26 1228.7 L1557.26 1226.42 L1563.78 1226.42 L1563.78 1232.55 L1570.29 1232.55 L1570.29 1183.18 L1576.8 1183.18 L1576.8 1349" stroke="#ff0000" stroke-width="2.3" fill="none"/>
<path d="M1251.2 1349V1284.2H1576.8V1349" stroke="#0000ff" stroke-width="2.3" stroke-dasharray="9.4 4.1" fill="none"/>
<path d="M1576.8 1107V1349" stroke="#000" stroke-width="2.0"/>
<rect x="1473.2" y="1108" width="106.6" height="53.5" fill="#fff"/>
<path d="M1251.2 1107V1349 M1251.2 1107H1576.8 M1251.2 1349H1576.8" stroke="#000" stroke-width="2.0" stroke-linecap="square" fill="none"/>
<path d="M1251.2 1152.89H1242.4M1251.2 1218.55H1242.4M1251.2 1284.2H1242.4M1251.2 1349.5H1242.4M1251.2 1349V1357.8M1332.6 1349V1357.8M1414 1349V1357.8M1495.4 1349V1357.8M1576.8 1349V1357.8" stroke="#000" stroke-width="2.0"/>
<text x="1251.2" y="1387.4" class="tl">0.00</text>
<text x="1332.6" y="1387.4" class="tl">0.05</text>
<text x="1414" y="1387.4" class="tl">0.10</text>
<text x="1495.4" y="1387.4" class="tl">0.15</text>
<text x="1576.8" y="1387.4" class="tl">0.20</text>
<text x="1566.3" y="1143.6" class="tt">0787</text>
<text x="1414" y="1424.3" class="xl"><tspan dx="1.5" font-weight="bold">f</tspan><tspan class="sub" dx="0.8" dy="4.2" font-style="italic" font-weight="normal">r</tspan><tspan dx="0.6" dy="-4.2" font-weight="bold"> (−)</tspan></text>
<path d="M1644.2 1349 L1644.2 1166.03 L1650.71 1166.03 L1650.71 1119.63 L1657.22 1119.63 L1657.22 1159.9 L1663.74 1159.9 L1663.74 1222.92 L1670.25 1222.92 L1670.25 1197.89 L1676.76 1197.89 L1676.76 1287.7 L1683.27 1287.7 L1683.27 1327.09 L1689.78 1327.09 L1689.78 1349 L1696.3 1349 L1696.3 1349 L1702.81 1349 L1702.81 1349 L1709.32 1349 L1709.32 1349 L1715.83 1349 L1715.83 1349 L1722.34 1349 L1722.34 1349 L1728.86 1349 L1728.86 1349 L1735.37 1349 L1735.37 1349 L1741.88 1349 L1741.88 1349 L1748.39 1349 L1748.39 1349 L1754.9 1349 L1754.9 1349 L1761.42 1349 L1761.42 1349 L1767.93 1349 L1767.93 1349 L1774.44 1349 L1774.44 1349 L1780.95 1349 L1780.95 1349 L1787.46 1349 L1787.46 1349 L1793.98 1349 L1793.98 1349 L1800.49 1349 L1800.49 1349 L1807 1349 L1807 1349 L1813.51 1349 L1813.51 1349 L1820.02 1349 L1820.02 1349 L1826.54 1349 L1826.54 1349 L1833.05 1349 L1833.05 1349 L1839.56 1349 L1839.56 1349 L1846.07 1349 L1846.07 1349 L1852.58 1349 L1852.58 1349 L1859.1 1349 L1859.1 1349 L1865.61 1349 L1865.61 1349 L1872.12 1349 L1872.12 1349 L1878.63 1349 L1878.63 1349 L1885.14 1349 L1885.14 1349 L1891.66 1349 L1891.66 1349 L1898.17 1349 L1898.17 1349 L1904.68 1349 L1904.68 1349 L1911.19 1349 L1911.19 1349 L1917.7 1349 L1917.7 1349 L1924.22 1349 L1924.22 1349 L1930.73 1349 L1930.73 1349 L1937.24 1349 L1937.24 1349 L1943.75 1349 L1943.75 1349 L1950.26 1349 L1950.26 1349 L1956.78 1349 L1956.78 1349 L1963.29 1349 L1963.29 1349 L1969.8 1349 L1969.8 1349" stroke="#000" stroke-width="2.3" fill="none"/>
<path d="M1644.2 1349 L1644.2 1346 L1650.71 1346 L1650.71 1340.75 L1657.22 1340.75 L1657.22 1340.75 L1663.74 1340.75 L1663.74 1337.94 L1670.25 1337.94 L1670.25 1336.72 L1676.76 1336.72 L1676.76 1336.19 L1683.27 1336.19 L1683.27 1334.97 L1689.78 1334.97 L1689.78 1333.74 L1696.3 1333.74 L1696.3 1332.69 L1702.81 1332.69 L1702.81 1331.47 L1709.32 1331.47 L1709.32 1330.94 L1715.83 1330.94 L1715.83 1330.59 L1722.34 1330.59 L1722.34 1330.24 L1728.86 1330.24 L1728.86 1330.24 L1735.37 1330.24 L1735.37 1330.24 L1741.88 1330.24 L1741.88 1329.19 L1748.39 1329.19 L1748.39 1329.19 L1754.9 1329.19 L1754.9 1328.49 L1761.42 1328.49 L1761.42 1328.49 L1767.93 1328.49 L1767.93 1327.96 L1774.44 1327.96 L1774.44 1327.96 L1780.95 1327.96 L1780.95 1327.96 L1787.46 1327.96 L1787.46 1327.79 L1793.98 1327.79 L1793.98 1327.79 L1800.49 1327.79 L1800.49 1327.79 L1807 1327.79 L1807 1328.49 L1813.51 1328.49 L1813.51 1327.44 L1820.02 1327.44 L1820.02 1328.49 L1826.54 1328.49 L1826.54 1327.44 L1833.05 1327.44 L1833.05 1327.44 L1839.56 1327.44 L1839.56 1328.49 L1846.07 1328.49 L1846.07 1328.49 L1852.58 1328.49 L1852.58 1328.49 L1859.1 1328.49 L1859.1 1328.49 L1865.61 1328.49 L1865.61 1327.44 L1872.12 1327.44 L1872.12 1328.49 L1878.63 1328.49 L1878.63 1328.49 L1885.14 1328.49 L1885.14 1328.49 L1891.66 1328.49 L1891.66 1327.44 L1898.17 1327.44 L1898.17 1328.49 L1904.68 1328.49 L1904.68 1328.49 L1911.19 1328.49 L1911.19 1328.49 L1917.7 1328.49 L1917.7 1328.49 L1924.22 1328.49 L1924.22 1328.49 L1930.73 1328.49 L1930.73 1329.19 L1937.24 1329.19 L1937.24 1329.19 L1943.75 1329.19 L1943.75 1329.19 L1950.26 1329.19 L1950.26 1329.19 L1956.78 1329.19 L1956.78 1329.72 L1963.29 1329.72 L1963.29 1330.24 L1969.8 1330.24 L1969.8 1349" stroke="#ff0000" stroke-width="2.3" fill="none"/>
<path d="M1644.2 1349V1330.59H1969.8V1349" stroke="#0000ff" stroke-width="2.3" stroke-dasharray="9.4 4.1" fill="none"/>
<path d="M1969.8 1107V1349" stroke="#000" stroke-width="2.0"/>
<rect x="1866.2" y="1108" width="106.6" height="53.5" fill="#fff"/>
<path d="M1644.2 1107V1349 M1644.2 1107H1969.8 M1644.2 1349H1969.8" stroke="#000" stroke-width="2.0" stroke-linecap="square" fill="none"/>
<path d="M1644.2 1117.01H1635.4M1644.2 1194.39H1635.4M1644.2 1271.94H1635.4M1644.2 1349.5H1635.4M1644.2 1349V1357.8M1725.6 1349V1357.8M1807 1349V1357.8M1888.4 1349V1357.8M1969.8 1349V1357.8" stroke="#000" stroke-width="2.0"/>
<text x="1644.2" y="1387.4" class="tl">0.00</text>
<text x="1725.6" y="1387.4" class="tl">0.05</text>
<text x="1807" y="1387.4" class="tl">0.10</text>
<text x="1888.4" y="1387.4" class="tl">0.15</text>
<text x="1969.8" y="1387.4" class="tl">0.20</text>
<text x="1959.3" y="1143.6" class="tt">0821</text>
<text x="1807" y="1424.3" class="xl"><tspan dx="1.5" font-weight="bold">f</tspan><tspan class="sub" dx="0.8" dy="4.2" font-style="italic" font-weight="normal">r</tspan><tspan dx="0.6" dy="-4.2" font-weight="bold"> (−)</tspan></text><text transform="translate(31.5 727.5) rotate(-90)" class="yl">Probability (-)</text>
<rect x="1191.5" y="2" width="812" height="45" rx="5.5" ry="5.5" fill="#fff" fill-opacity="0.8" stroke="#cccccc" stroke-width="2"/>
<rect x="1201.4" y="14.5" width="51" height="17.8" fill="none" stroke="#000" stroke-width="2.3"/>
<text x="1273" y="31.8" class="lg">autopsy-posterior</text>
<rect x="1550.2" y="14.5" width="51" height="17.8" fill="none" stroke="#ff0000" stroke-width="2.3"/>
<text x="1622.5" y="31.8" class="lg">urine-posterior</text>
<rect x="1863.3" y="14.5" width="51" height="17.8" fill="none" stroke="#0000ff" stroke-width="2.3" stroke-dasharray="9.4 4.1"/>
<text x="1936" y="31.8" class="lg">prior</text>

</svg>
</body></html>
